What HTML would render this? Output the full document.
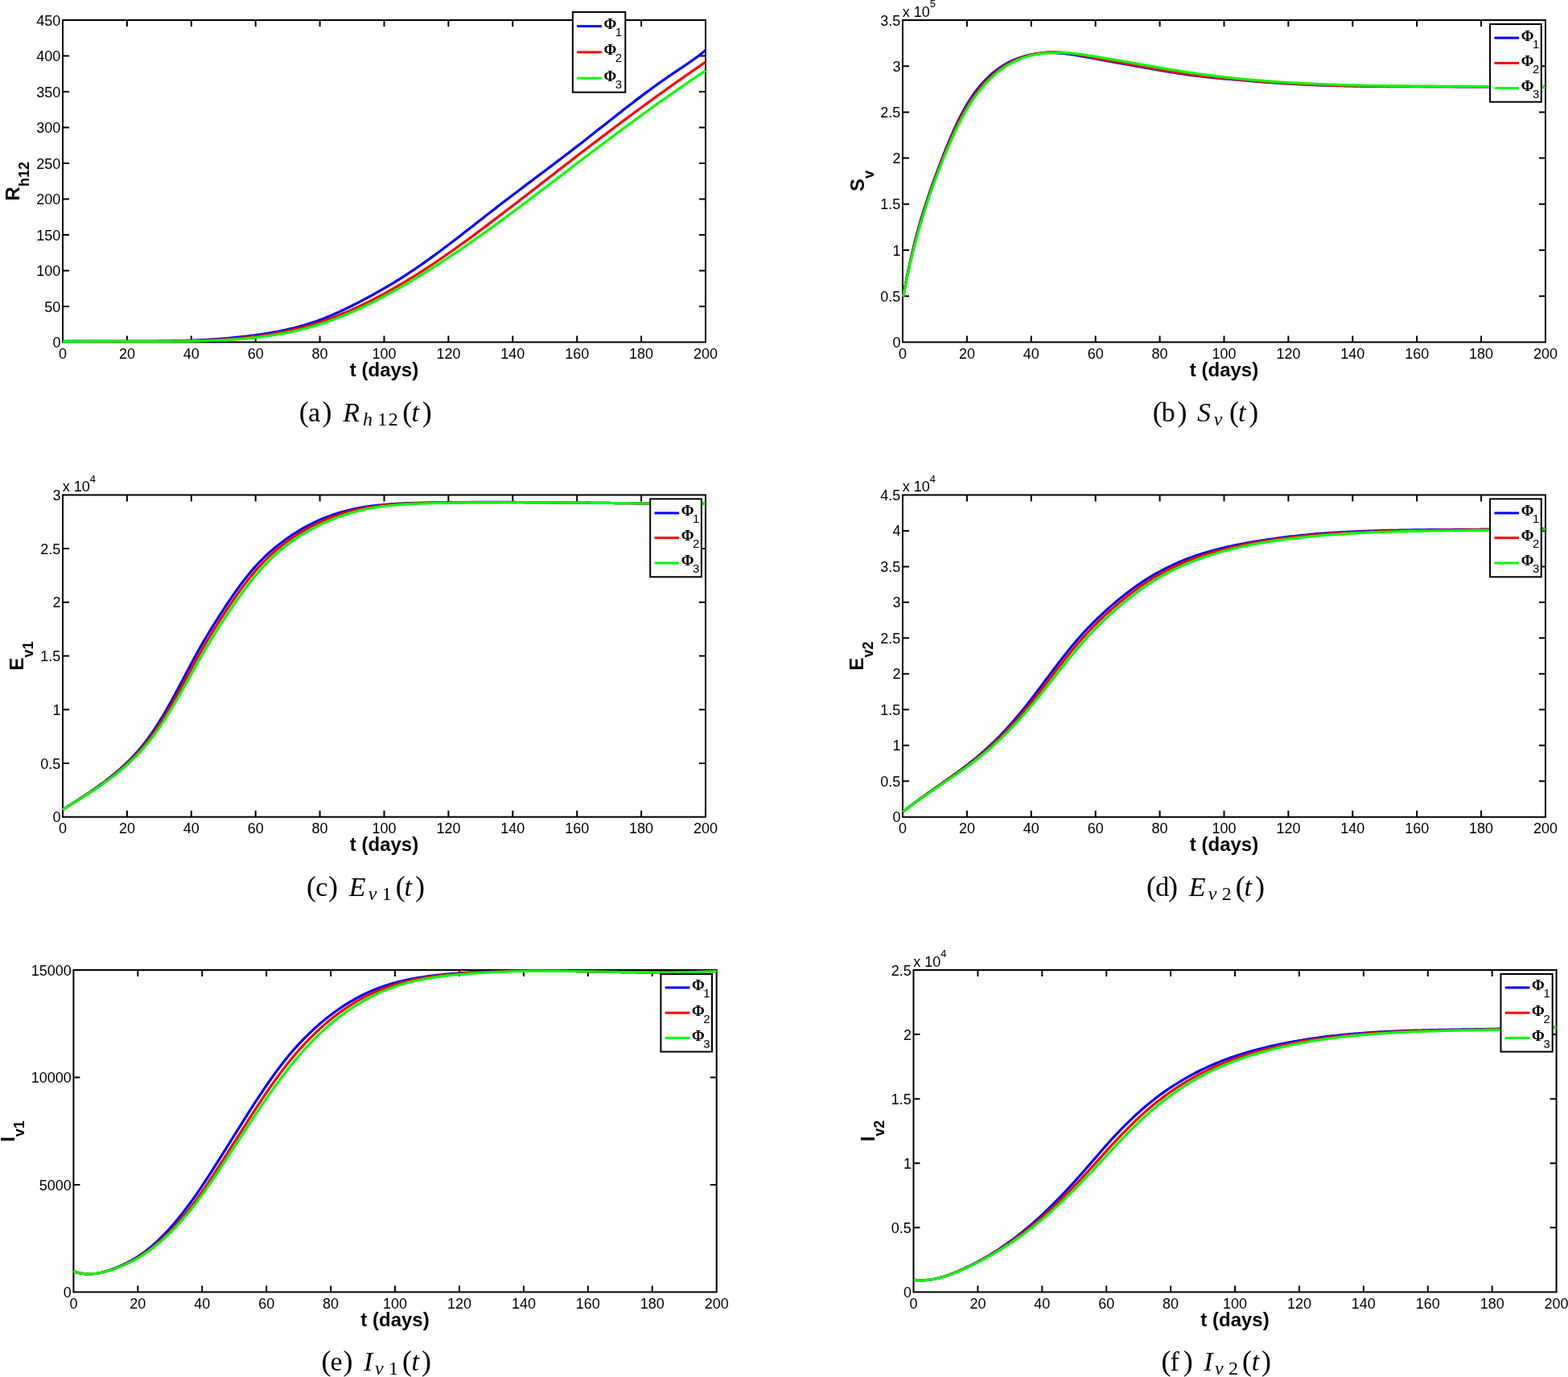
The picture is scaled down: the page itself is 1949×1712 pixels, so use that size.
<!DOCTYPE html>
<html><head><meta charset="utf-8"><title>Figure</title>
<style>
html,body{margin:0;padding:0;background:#fff;}
body{width:1949px;height:1712px;overflow:hidden;}
svg{display:block;}
</style></head><body>
<svg width="1949" height="1712" viewBox="0 0 1949 1712">
<rect width="1949" height="1712" fill="#fff"/>
<g id="panel-a">
<path d="M157.9 425.4V417.4M157.9 25V33M237.8 425.4V417.4M237.8 25V33M317.7 425.4V417.4M317.7 25V33M397.6 425.4V417.4M397.6 25V33M477.5 425.4V417.4M477.5 25V33M557.4 425.4V417.4M557.4 25V33M637.3 425.4V417.4M637.3 25V33M717.2 425.4V417.4M717.2 25V33M797.1 425.4V417.4M797.1 25V33M78 380.91H86M877 380.91H869M78 336.42H86M877 336.42H869M78 291.93H86M877 291.93H869M78 247.44H86M877 247.44H869M78 202.96H86M877 202.96H869M78 158.47H86M877 158.47H869M78 113.98H86M877 113.98H869M78 69.49H86M877 69.49H869" stroke="#000" stroke-width="2.0" fill="none"/>
<rect x="78" y="25" width="799" height="400.4" fill="none" stroke="#000" stroke-width="2.0"/>
<g fill="none" stroke-width="3.2" stroke-linejoin="round" stroke-linecap="butt">
<path d="M78 424.5L80.09 424.45L82.54 424.42L84.99 424.4L87.44 424.38L89.9 424.36L92.36 424.34L94.82 424.33L97.29 424.31L99.75 424.3L102.22 424.3L104.7 424.29L107.17 424.29L109.65 424.29L112.13 424.29L114.61 424.29L117.09 424.29L119.58 424.29L122.06 424.3L124.55 424.3L127.04 424.31L129.54 424.31L132.03 424.32L134.53 424.33L137.03 424.34L139.53 424.34L141.53 424.35L143.53 424.36L145.53 424.36L147.54 424.37L149.54 424.37L151.55 424.38L153.55 424.38L155.56 424.39L157.57 424.39L159.58 424.39L161.58 424.39L163.59 424.39L165.6 424.39L167.62 424.39L169.63 424.39L171.64 424.39L173.65 424.39L175.66 424.38L177.68 424.37L179.69 424.37L181.71 424.36L183.72 424.35L185.73 424.33L187.75 424.32L189.76 424.3L191.78 424.29L193.8 424.27L195.81 424.25L197.83 424.22L199.84 424.2L201.86 424.17L203.88 424.14L205.89 424.11L207.91 424.08L209.92 424.04L211.94 424L213.96 423.96L215.97 423.92L217.99 423.87L220 423.82L222.02 423.77L224.03 423.71L226.05 423.66L228.06 423.6L230.07 423.53L232.09 423.47L234.1 423.4L236.11 423.32L238.12 423.24L240.14 423.16L242.15 423.08L244.16 422.99L246.17 422.9L248.18 422.81L250.18 422.71L252.19 422.61L254.2 422.5L256.2 422.39L258.21 422.28L260.21 422.16L262.22 422.04L264.22 421.91L266.22 421.78L268.22 421.65L270.22 421.51L272.22 421.36L274.22 421.21L276.22 421.06L278.21 420.9L280.21 420.74L282.2 420.57L284.69 420.35L287.18 420.13L289.66 419.9L292.15 419.66L294.63 419.41L297.11 419.15L299.59 418.89L302.06 418.61L304.53 418.33L307 418.04L309.47 417.74L311.94 417.43L314.4 417.11L316.86 416.78L319.32 416.44L321.77 416.09L324.22 415.73L326.67 415.37L329.12 414.99L331.56 414.59L334 414.19L336.44 413.78L338.87 413.35L341.3 412.91L343.73 412.45L346.16 411.99L348.58 411.5L351 411.01L353.41 410.5L355.82 409.97L358.23 409.43L360.63 408.87L363.04 408.29L365.43 407.7L367.83 407.09L370.22 406.47L372.6 405.82L374.99 405.16L377.37 404.48L379.74 403.78L382.11 403.06L384.48 402.32L386.84 401.55L389.2 400.77L391.56 399.97L393.91 399.14L396.26 398.3L398.6 397.43L400.47 396.72L402.34 395.99L404.21 395.26L406.07 394.51L407.93 393.74L409.79 392.97L411.64 392.18L413.5 391.38L415.35 390.58L417.19 389.76L419.04 388.93L420.88 388.09L422.71 387.25L424.55 386.39L426.38 385.53L428.21 384.66L430.03 383.78L431.86 382.9L433.68 382.01L435.49 381.11L437.31 380.21L439.12 379.3L440.92 378.39L442.73 377.47L444.53 376.55L446.32 375.63L448.12 374.7L449.91 373.77L451.7 372.83L453.48 371.88L455.26 370.94L457.04 369.99L458.81 369.03L460.58 368.07L462.35 367.1L464.11 366.13L465.87 365.16L467.63 364.18L469.38 363.2L471.13 362.21L472.88 361.21L474.62 360.21L476.36 359.21L478.09 358.2L479.82 357.19L481.55 356.17L483.28 355.15L485 354.12L486.71 353.09L488.43 352.05L490.14 351.01L491.84 349.96L493.54 348.91L495.24 347.85L497.36 346.52L499.47 345.18L501.57 343.84L503.67 342.48L505.76 341.12L507.85 339.75L509.93 338.38L512 336.99L514.07 335.6L516.13 334.2L518.19 332.8L520.25 331.39L522.3 329.97L524.34 328.55L526.38 327.12L528.42 325.68L530.45 324.24L532.47 322.79L534.5 321.34L536.51 319.88L538.53 318.41L540.54 316.95L542.55 315.47L544.55 313.99L546.55 312.51L548.55 311.02L550.55 309.53L552.54 308.04L554.53 306.54L556.51 305.04L558.5 303.53L560.48 302.02L562.46 300.51L564.44 299L566.41 297.48L568.39 295.96L570.36 294.44L572.33 292.91L574.3 291.39L576.27 289.86L578.23 288.33L580.2 286.8L582.16 285.26L584.13 283.73L586.09 282.19L588.06 280.66L590.02 279.12L591.98 277.58L593.94 276.05L595.91 274.51L597.87 272.97L599.83 271.43L601.8 269.9L603.76 268.36L605.73 266.82L607.69 265.29L609.66 263.75L611.63 262.22L613.6 260.69L615.57 259.16L617.54 257.63L619.52 256.1L621.49 254.58L623.47 253.05L625.45 251.53L627.43 250.01L629.42 248.5L631.4 246.98L633.39 245.47L635.37 243.95L637.36 242.44L639.35 240.93L641.34 239.42L643.33 237.92L645.33 236.41L647.32 234.9L649.32 233.4L651.31 231.89L653.31 230.39L655.3 228.89L657.3 227.38L659.3 225.88L660.9 224.68L662.5 223.48L664.1 222.28L665.7 221.07L667.29 219.87L668.89 218.67L670.49 217.47L672.09 216.27L673.69 215.07L675.29 213.86L676.89 212.66L678.49 211.46L680.09 210.25L681.69 209.05L683.29 207.85L684.89 206.64L686.48 205.44L688.08 204.23L689.68 203.02L691.27 201.82L692.87 200.61L694.47 199.4L696.06 198.19L697.66 196.98L699.25 195.77L700.84 194.56L702.44 193.34L704.03 192.13L705.62 190.91L707.21 189.69L708.8 188.48L710.39 187.26L711.97 186.04L713.56 184.81L715.15 183.59L716.73 182.37L718.32 181.14L719.9 179.91L721.48 178.68L723.06 177.45L724.64 176.22L726.22 174.99L727.79 173.75L729.37 172.51L730.95 171.28L732.52 170.04L734.1 168.8L735.67 167.56L737.24 166.32L738.82 165.08L740.39 163.84L741.96 162.6L743.53 161.36L745.1 160.11L746.67 158.87L748.24 157.63L749.81 156.39L751.38 155.14L752.95 153.9L754.52 152.66L756.09 151.42L757.67 150.18L759.24 148.94L760.81 147.7L762.38 146.46L763.95 145.22L765.52 143.98L767.09 142.74L769.06 141.2L771.03 139.66L772.99 138.12L774.96 136.58L776.93 135.05L778.91 133.51L780.88 131.98L782.85 130.46L784.83 128.93L786.81 127.41L788.79 125.89L790.77 124.38L792.75 122.87L794.74 121.36L796.73 119.86L798.72 118.36L800.71 116.87L802.71 115.38L804.71 113.9L806.71 112.42L808.71 110.94L810.72 109.48L812.73 108.01L814.74 106.56L816.76 105.1L818.78 103.66L820.81 102.22L822.83 100.79L824.86 99.36L826.9 97.94L828.94 96.53L830.98 95.12L833.03 93.73L835.08 92.33L837.14 90.95L839.2 89.57L841.26 88.19L843.32 86.82L845.39 85.44L847.45 84.06L849.52 82.68L851.58 81.29L853.64 79.89L855.7 78.48L857.76 77.05L859.4 75.9L861.03 74.74L862.67 73.57L864.3 72.38L865.92 71.18L867.54 69.96L869.16 68.73L870.77 67.49L872.37 66.22L873.97 64.94L875.56 63.63L877 62.2" stroke="#0000ff"/>
<path d="M78 424.5L80.1 424.49L82.54 424.46L84.98 424.44L87.43 424.42L89.88 424.4L92.33 424.39L94.79 424.37L97.25 424.36L99.71 424.35L102.17 424.34L104.64 424.33L107.11 424.32L109.58 424.32L112.06 424.32L114.54 424.31L117.02 424.31L119.5 424.31L121.99 424.32L124.47 424.32L126.96 424.32L129.46 424.32L131.95 424.33L134.45 424.33L136.94 424.33L139.44 424.34L141.44 424.34L143.45 424.35L145.45 424.35L147.45 424.36L149.46 424.36L151.47 424.36L153.47 424.37L155.48 424.37L157.49 424.37L159.5 424.37L161.51 424.38L163.52 424.38L165.53 424.38L167.55 424.38L169.56 424.38L171.58 424.38L173.59 424.38L175.61 424.37L177.62 424.37L179.64 424.37L181.66 424.36L183.67 424.35L185.69 424.35L187.71 424.34L189.73 424.33L191.75 424.32L193.77 424.31L195.79 424.29L197.81 424.28L199.83 424.26L201.85 424.25L203.87 424.23L205.89 424.21L207.91 424.19L209.93 424.16L211.95 424.14L213.97 424.11L215.99 424.08L218.01 424.05L220.03 424.02L222.05 423.99L224.07 423.95L226.09 423.91L228.1 423.87L230.12 423.83L232.14 423.78L234.16 423.74L236.18 423.69L238.19 423.64L240.21 423.58L242.23 423.52L244.24 423.46L246.26 423.4L248.27 423.33L250.28 423.26L252.3 423.19L254.31 423.11L256.32 423.03L258.33 422.95L260.34 422.86L262.35 422.77L264.36 422.68L266.37 422.58L268.37 422.47L270.38 422.36L272.38 422.25L274.38 422.13L276.39 422.01L278.39 421.88L280.39 421.75L282.39 421.61L284.38 421.47L286.38 421.32L288.37 421.17L290.87 420.97L293.35 420.76L295.84 420.55L298.33 420.32L300.81 420.08L303.29 419.84L305.77 419.58L308.24 419.31L310.72 419.04L313.19 418.75L315.65 418.45L318.12 418.14L320.58 417.82L323.04 417.48L325.5 417.14L327.95 416.78L330.4 416.41L332.85 416.03L335.29 415.64L337.73 415.23L340.17 414.82L342.6 414.38L345.04 413.94L347.46 413.48L349.89 413.01L352.31 412.53L354.73 412.03L357.15 411.52L359.56 410.99L361.97 410.45L364.38 409.9L366.78 409.33L369.18 408.75L371.57 408.15L373.97 407.53L376.36 406.91L378.74 406.26L381.12 405.6L383.5 404.93L385.88 404.24L388.25 403.53L390.62 402.81L392.98 402.07L395.34 401.32L397.7 400.55L400.05 399.76L402.4 398.96L404.75 398.14L407.09 397.3L409.43 396.45L411.77 395.59L414.1 394.7L416.43 393.81L418.75 392.9L421.07 391.98L423.38 391.04L425.7 390.09L427.54 389.32L429.39 388.54L431.23 387.75L433.07 386.96L434.9 386.16L436.74 385.34L438.57 384.53L440.4 383.7L442.22 382.87L444.04 382.03L445.87 381.18L447.68 380.33L449.5 379.47L451.31 378.6L453.12 377.73L454.93 376.85L456.73 375.96L458.53 375.07L460.33 374.17L462.13 373.26L463.92 372.35L465.71 371.43L467.5 370.5L469.28 369.57L471.06 368.63L472.84 367.69L474.62 366.74L476.39 365.79L478.16 364.83L479.93 363.86L481.7 362.89L483.46 361.91L485.22 360.93L486.97 359.94L488.72 358.95L490.47 357.95L492.22 356.95L493.96 355.94L495.7 354.93L497.44 353.91L499.18 352.89L500.91 351.86L502.64 350.83L504.36 349.79L506.09 348.75L507.81 347.71L509.52 346.66L511.24 345.6L512.95 344.55L514.65 343.48L516.36 342.42L518.06 341.35L519.76 340.27L521.46 339.2L523.15 338.11L524.85 337.03L526.53 335.94L528.22 334.84L529.9 333.75L531.59 332.65L533.26 331.54L534.94 330.43L536.61 329.32L538.29 328.21L539.96 327.09L541.62 325.97L543.29 324.85L544.95 323.72L546.61 322.59L548.26 321.45L549.92 320.32L551.57 319.18L553.22 318.04L554.87 316.89L556.52 315.74L558.16 314.59L559.81 313.44L561.45 312.29L563.08 311.13L564.72 309.97L566.36 308.8L567.99 307.64L569.62 306.47L571.25 305.3L572.87 304.13L574.5 302.96L576.12 301.78L577.74 300.6L579.36 299.42L580.98 298.24L582.6 297.06L584.21 295.87L585.83 294.68L587.44 293.5L589.05 292.31L590.66 291.11L592.26 289.92L593.87 288.73L595.47 287.53L597.08 286.33L598.68 285.13L600.68 283.63L602.68 282.13L604.67 280.63L606.67 279.13L608.66 277.62L610.65 276.11L612.64 274.6L614.63 273.1L616.61 271.59L618.6 270.07L620.58 268.56L622.56 267.05L624.54 265.54L626.52 264.02L628.49 262.51L630.47 261L632.44 259.48L634.42 257.97L636.39 256.45L638.36 254.93L640.33 253.42L642.3 251.9L644.27 250.38L646.23 248.86L648.2 247.34L650.17 245.83L652.13 244.31L654.1 242.79L656.06 241.27L658.02 239.75L659.99 238.23L661.95 236.71L663.91 235.19L665.88 233.66L667.84 232.14L669.8 230.62L671.76 229.1L673.73 227.58L675.69 226.06L677.65 224.53L679.61 223.01L681.58 221.49L683.54 219.97L685.5 218.44L687.47 216.92L689.43 215.4L691.39 213.88L693.36 212.35L695.32 210.83L697.29 209.31L699.26 207.79L701.23 206.26L703.2 204.74L705.16 203.22L707.14 201.7L709.11 200.18L711.08 198.65L713.05 197.13L715.03 195.61L717 194.09L718.98 192.57L720.96 191.05L722.94 189.53L724.92 188.01L726.91 186.49L728.89 184.97L730.88 183.45L732.46 182.23L734.05 181.02L735.65 179.81L737.24 178.59L738.83 177.38L740.42 176.16L742.02 174.95L743.61 173.74L745.21 172.53L746.8 171.32L748.4 170.1L750 168.89L751.6 167.68L753.2 166.47L754.8 165.26L756.4 164.06L758 162.85L759.61 161.64L761.21 160.43L762.81 159.23L764.42 158.02L766.02 156.82L767.63 155.61L769.24 154.41L770.84 153.21L772.45 152L774.06 150.8L775.67 149.6L777.28 148.4L778.89 147.2L780.5 146.01L782.12 144.81L783.73 143.61L785.34 142.42L786.96 141.22L788.57 140.03L790.19 138.83L791.81 137.64L793.42 136.45L795.04 135.26L796.66 134.07L798.28 132.88L799.9 131.7L801.52 130.51L803.14 129.33L804.76 128.14L806.38 126.96L808 125.78L809.63 124.6L811.25 123.42L812.88 122.24L814.5 121.06L816.13 119.89L817.75 118.71L819.38 117.54L821.01 116.37L822.63 115.2L824.26 114.03L825.89 112.86L827.52 111.7L829.15 110.53L830.78 109.37L832.41 108.2L834.04 107.04L835.67 105.88L837.31 104.72L838.94 103.57L840.57 102.41L842.21 101.26L844.25 99.82L846.29 98.38L848.34 96.95L850.38 95.51L852.43 94.08L854.47 92.66L856.52 91.23L858.57 89.81L860.62 88.39L862.67 86.97L864.72 85.56L866.77 84.15L868.82 82.74L870.87 81.33L872.92 79.93L874.97 78.53L877 77.1" stroke="#ff0000"/>
<path d="M78 424.6L80.11 424.63L82.55 424.59L84.99 424.55L87.44 424.51L89.89 424.48L92.34 424.45L94.79 424.42L97.25 424.39L99.71 424.37L102.18 424.35L104.64 424.33L107.11 424.31L109.59 424.3L112.06 424.28L114.54 424.27L117.02 424.26L119.5 424.26L121.98 424.25L124.47 424.25L126.96 424.24L129.45 424.24L131.95 424.24L134.44 424.24L136.94 424.24L139.44 424.24L141.44 424.25L143.44 424.25L145.44 424.25L147.45 424.26L149.45 424.26L151.46 424.27L153.47 424.27L155.48 424.28L157.49 424.28L159.5 424.29L161.51 424.29L163.52 424.3L165.53 424.3L167.54 424.31L169.56 424.31L171.57 424.32L173.59 424.32L175.6 424.32L177.62 424.33L179.64 424.33L181.66 424.33L183.67 424.34L185.69 424.34L187.71 424.34L189.73 424.34L191.75 424.34L193.77 424.34L195.79 424.33L197.81 424.33L199.83 424.33L201.85 424.32L203.87 424.32L205.9 424.31L207.92 424.3L209.94 424.29L211.96 424.28L213.98 424.27L216 424.26L218.02 424.24L220.04 424.23L222.07 424.21L224.09 424.19L226.11 424.17L228.13 424.15L230.15 424.12L232.17 424.1L234.19 424.07L236.21 424.04L238.23 424.01L240.24 423.97L242.26 423.94L244.28 423.9L246.3 423.86L248.31 423.81L250.33 423.77L252.34 423.72L254.36 423.66L256.37 423.61L258.38 423.55L260.39 423.48L262.41 423.42L264.42 423.35L266.43 423.27L268.43 423.19L270.44 423.11L272.45 423.02L274.45 422.93L276.46 422.84L278.46 422.74L280.46 422.63L282.47 422.52L284.47 422.41L286.47 422.28L288.46 422.16L290.46 422.03L292.95 421.86L295.44 421.68L297.93 421.49L300.42 421.29L302.91 421.08L305.39 420.86L307.87 420.63L310.35 420.39L312.82 420.14L315.29 419.88L317.76 419.61L320.23 419.33L322.69 419.03L325.16 418.72L327.61 418.41L330.07 418.07L332.52 417.73L334.97 417.38L337.42 417.01L339.86 416.63L342.31 416.23L344.74 415.83L347.18 415.4L349.61 414.97L352.04 414.52L354.47 414.06L356.89 413.58L359.31 413.09L361.73 412.59L364.14 412.07L366.55 411.53L368.96 410.98L371.36 410.42L373.76 409.84L376.16 409.24L378.55 408.63L380.94 408L383.33 407.36L385.71 406.7L388.09 406.02L390.47 405.33L392.84 404.62L395.21 403.89L397.58 403.15L399.94 402.38L402.3 401.61L404.66 400.81L407.01 400L409.36 399.17L411.7 398.32L414.05 397.46L416.38 396.59L418.72 395.7L420.58 394.97L422.44 394.24L424.3 393.5L426.16 392.74L428.02 391.98L429.87 391.22L431.72 390.44L433.57 389.65L435.41 388.86L437.26 388.05L439.1 387.24L440.93 386.42L442.77 385.59L444.6 384.76L446.43 383.92L448.26 383.07L450.08 382.21L451.91 381.34L453.72 380.47L455.54 379.59L457.36 378.71L459.17 377.82L460.98 376.92L462.78 376.01L464.59 375.1L466.39 374.19L468.19 373.26L469.98 372.34L471.78 371.4L473.57 370.46L475.36 369.52L477.14 368.57L478.92 367.61L480.7 366.65L482.48 365.69L484.25 364.72L486.02 363.74L487.79 362.77L489.56 361.78L491.32 360.8L493.08 359.81L494.84 358.81L496.59 357.82L498.34 356.81L500.09 355.81L501.84 354.8L503.58 353.79L505.32 352.78L507.05 351.76L508.79 350.74L510.52 349.71L512.25 348.69L513.97 347.66L515.7 346.62L517.42 345.59L519.14 344.55L520.85 343.51L522.56 342.46L524.27 341.41L525.98 340.36L527.69 339.31L529.39 338.25L531.09 337.19L532.79 336.13L534.48 335.07L536.17 334L537.86 332.93L539.55 331.86L541.66 330.51L543.76 329.16L545.86 327.81L547.96 326.45L550.05 325.09L552.14 323.73L554.23 322.36L556.31 320.99L558.39 319.61L560.47 318.23L562.54 316.85L564.62 315.46L566.68 314.07L568.75 312.67L570.81 311.27L572.87 309.87L574.93 308.47L576.98 307.06L579.03 305.65L581.08 304.23L583.13 302.82L585.17 301.4L587.21 299.97L589.25 298.54L591.29 297.11L593.32 295.68L595.35 294.25L597.38 292.81L599.41 291.37L601.44 289.92L603.46 288.47L605.48 287.02L607.5 285.57L609.52 284.12L611.54 282.66L613.55 281.2L615.56 279.74L617.57 278.28L619.58 276.81L621.59 275.34L623.6 273.87L625.6 272.4L627.6 270.92L629.61 269.44L631.61 267.96L633.61 266.48L635.6 265L637.6 263.51L639.6 262.03L641.59 260.54L643.59 259.05L645.58 257.56L647.57 256.06L649.56 254.57L651.55 253.07L653.54 251.57L655.53 250.07L657.52 248.57L659.51 247.07L661.5 245.57L663.48 244.06L665.47 242.56L667.45 241.05L669.44 239.54L671.43 238.03L673.41 236.52L675.4 235.01L677.38 233.5L679.36 231.99L681.35 230.47L683.33 228.96L685.32 227.44L687.3 225.93L689.29 224.41L691.28 222.89L693.26 221.38L695.25 219.86L696.84 218.65L698.43 217.43L700.02 216.22L701.61 215L703.2 213.79L704.79 212.57L706.38 211.36L707.97 210.14L709.56 208.92L711.16 207.71L712.75 206.49L714.34 205.28L715.94 204.06L717.53 202.85L719.13 201.63L720.72 200.42L722.32 199.2L723.92 197.99L725.52 196.77L727.11 195.56L728.71 194.35L730.31 193.13L731.92 191.92L733.52 190.71L735.12 189.49L736.72 188.28L738.32 187.07L739.93 185.86L741.53 184.65L743.14 183.44L744.74 182.23L746.35 181.02L747.96 179.81L749.57 178.6L751.17 177.39L752.78 176.18L754.39 174.98L756 173.77L757.61 172.57L759.22 171.36L760.84 170.16L762.45 168.96L764.06 167.76L765.67 166.55L767.29 165.35L768.9 164.15L770.52 162.96L772.13 161.76L773.75 160.56L775.37 159.37L776.98 158.17L778.6 156.98L780.22 155.79L781.84 154.59L783.46 153.4L785.08 152.22L786.7 151.03L788.32 149.84L789.94 148.65L791.56 147.47L793.19 146.29L794.81 145.11L796.43 143.93L798.06 142.75L799.68 141.57L801.31 140.39L802.93 139.22L804.56 138.04L806.18 136.87L807.81 135.7L809.44 134.53L811.07 133.36L812.7 132.2L814.32 131.03L815.95 129.87L817.58 128.71L819.21 127.55L821.25 126.1L823.29 124.66L825.33 123.22L827.37 121.78L829.41 120.34L831.46 118.91L833.5 117.48L835.54 116.05L837.59 114.63L839.63 113.21L841.68 111.79L843.72 110.38L845.77 108.96L847.81 107.56L849.86 106.15L851.91 104.75L853.96 103.35L856.01 101.96L858.06 100.57L860.11 99.18L862.16 97.79L864.21 96.41L866.27 95.04L868.32 93.67L870.37 92.3L872.43 90.93L874.48 89.57L876.54 88.21L877 87.7" stroke="#00ff00"/>
</g>
<g font-family="'Liberation Sans', Arial, Helvetica, sans-serif" font-size="18" text-anchor="middle"><text x="78" y="445.6">0</text><text x="157.9" y="445.6">20</text><text x="237.8" y="445.6">40</text><text x="317.7" y="445.6">60</text><text x="397.6" y="445.6">80</text><text x="477.5" y="445.6">100</text><text x="557.4" y="445.6">120</text><text x="637.3" y="445.6">140</text><text x="717.2" y="445.6">160</text><text x="797.1" y="445.6">180</text><text x="877" y="445.6">200</text></g>
<g font-family="'Liberation Sans', Arial, Helvetica, sans-serif" font-size="18" text-anchor="end"><text x="75.4" y="432">0</text><text x="75.4" y="387.51">50</text><text x="75.4" y="343.02">100</text><text x="75.4" y="298.53">150</text><text x="75.4" y="254.04">200</text><text x="75.4" y="209.56">250</text><text x="75.4" y="165.07">300</text><text x="75.4" y="120.58">350</text><text x="75.4" y="76.09">400</text><text x="75.4" y="31.6">450</text></g>
<text x="477.5" y="467.5" font-family="'Liberation Sans', Arial, Helvetica, sans-serif" font-size="24" font-weight="bold" text-anchor="middle">t (days)</text>
<text transform="translate(24.2 225.2) rotate(-90)" font-family="'Liberation Sans', Arial, Helvetica, sans-serif" font-size="24" font-weight="bold" text-anchor="middle">R<tspan font-size="18" dy="12">h12</tspan></text>
<rect x="711.9" y="15.05" width="65.4" height="99.65" fill="#fff" stroke="#000" stroke-width="2"/>
<path d="M717.2 32.6H747.9" stroke="#0000ff" stroke-width="3"/><text x="750.5" y="36" font-family="'Liberation Serif', 'Times New Roman', serif" font-size="19" font-weight="bold">&#934;</text><text x="764.8" y="45" font-family="'Liberation Sans', Arial, Helvetica, sans-serif" font-size="15">1</text><path d="M717.2 64.9H747.9" stroke="#ff0000" stroke-width="3"/><text x="750.5" y="68.3" font-family="'Liberation Serif', 'Times New Roman', serif" font-size="19" font-weight="bold">&#934;</text><text x="764.8" y="77.3" font-family="'Liberation Sans', Arial, Helvetica, sans-serif" font-size="15">2</text><path d="M717.2 97.2H747.9" stroke="#00ff00" stroke-width="3"/><text x="750.5" y="100.6" font-family="'Liberation Serif', 'Times New Roman', serif" font-size="19" font-weight="bold">&#934;</text><text x="764.8" y="109.6" font-family="'Liberation Sans', Arial, Helvetica, sans-serif" font-size="15">3</text>
<text font-family="'Liberation Serif', 'Times New Roman', serif"><tspan x="371.7" y="523.6" font-size="36">(</tspan><tspan x="382.9" y="523.6" font-size="34">a</tspan><tspan x="400.4" y="523.6" font-size="36">)</tspan><tspan x="426.3" y="523.6" font-size="34" font-style="italic">R</tspan><tspan x="451.1" y="529" font-size="24" font-style="italic">h</tspan><tspan x="469.2" y="529" font-size="24">1</tspan><tspan x="482.8" y="529" font-size="24">2</tspan><tspan x="500.3" y="523.6" font-size="36">(</tspan><tspan x="511.6" y="523.6" font-size="34" font-style="italic">t</tspan><tspan x="524.7" y="523.6" font-size="36">)</tspan></text>
</g>
<g id="panel-b">
<path d="M1201.9 425.4V417.4M1201.9 25V33M1281.8 425.4V417.4M1281.8 25V33M1361.7 425.4V417.4M1361.7 25V33M1441.6 425.4V417.4M1441.6 25V33M1521.5 425.4V417.4M1521.5 25V33M1601.4 425.4V417.4M1601.4 25V33M1681.3 425.4V417.4M1681.3 25V33M1761.2 425.4V417.4M1761.2 25V33M1841.1 425.4V417.4M1841.1 25V33M1122 368.2H1130M1921 368.2H1913M1122 311H1130M1921 311H1913M1122 253.8H1130M1921 253.8H1913M1122 196.6H1130M1921 196.6H1913M1122 139.4H1130M1921 139.4H1913M1122 82.2H1130M1921 82.2H1913" stroke="#000" stroke-width="2.0" fill="none"/>
<rect x="1122" y="25" width="799" height="400.4" fill="none" stroke="#000" stroke-width="2.0"/>
<g fill="none" stroke-width="3.2" stroke-linejoin="round" stroke-linecap="butt">
<path d="M1122.5 368.77L1123.5 364.26L1124 361.51L1124.5 358.8L1125 356.14L1125.5 353.51L1126 350.91L1126.5 348.36L1127 345.83L1127.5 343.34L1128 340.88L1128.5 338.45L1129 336.06L1129.5 333.69L1130 331.35L1130.5 329.03L1131 326.75L1131.5 324.48L1132 322.25L1132.5 320.04L1133 317.85L1133.5 315.68L1134 313.54L1134.5 311.42L1135 309.32L1135.5 307.24L1136 305.19L1136.5 303.15L1137 301.13L1137.5 299.13L1138 297.15L1138.5 295.18L1139 293.24L1140 289.4L1141 285.82L1142 282.29L1143 278.82L1144 275.4L1145 272.04L1146 268.72L1147 265.45L1148 262.22L1149 259.04L1150 255.9L1151 252.8L1152 249.74L1153 246.71L1154 243.73L1155 240.78L1156 237.86L1157 234.98L1158 232.13L1159 229.31L1160 226.52L1161 223.77L1162 221.04L1163 218.34L1164 215.67L1165 213.02L1166 210.29L1167 207.6L1168 204.93L1169 202.28L1170 199.66L1171 197.07L1172 194.5L1173 191.95L1174 189.43L1175 186.92L1176 184.44L1177 181.98L1178 179.54L1179 177.13L1180 174.73L1181 172.37L1182 170.02L1183 167.71L1184 165.43L1185 163.17L1186 160.95L1187 158.76L1188 156.61L1189 154.47L1190 152.37L1191 150.3L1192 148.27L1193 146.27L1194 144.31L1195 142.38L1196 140.48L1197 138.62L1198 136.8L1199 135.01L1200 133.25L1201.5 130.68L1203 128.18L1204.5 125.75L1206 123.4L1207.5 121.11L1209 118.89L1210.5 116.75L1212 114.7L1213.5 112.71L1215 110.78L1216.5 108.91L1218 107.09L1219.5 105.33L1221 103.62L1222.5 101.96L1224 100.35L1225.5 98.79L1227 97.28L1228.5 95.81L1230 94.39L1231.5 93.02L1233 91.68L1235 89.97L1237 88.39L1239 86.88L1241 85.43L1243 84.04L1245 82.72L1247 81.46L1249 80.25L1251 79.11L1253 78.02L1255 76.99L1257 76.01L1259 75.09L1261 74.24L1263 73.44L1265 72.69L1267 71.99L1269 71.32L1271 70.7L1273 70.11L1275 69.56L1277 69.05L1279 68.58L1281 68.14L1283 67.73L1285 67.37L1287 67.03L1289 66.73L1291 66.48L1293 66.28L1295 66.1L1297 65.95L1299 65.83L1301 65.74L1303 65.68L1305 65.63L1307 65.62L1309 65.62L1311 65.68L1313 65.78L1315 65.91L1317 66.06L1319 66.23L1321 66.42L1323 66.63L1325 66.86L1327 67.1L1329 67.37L1331 67.64L1333 67.94L1335 68.24L1337 68.56L1339 68.9L1341 69.23L1343 69.55L1345 69.89L1347 70.23L1349 70.59L1351 70.95L1353 71.31L1355 71.68L1357 72.05L1359 72.42L1361 72.8L1363 73.18L1365 73.57L1367 73.95L1369 74.34L1371 74.73L1373 75.12L1375 75.51L1377 75.91L1379 76.3L1381 76.68L1383 77.02L1385 77.37L1387 77.72L1389 78.06L1391 78.41L1393 78.77L1395 79.12L1397 79.47L1399 79.82L1401 80.18L1403 80.53L1405 80.89L1407 81.24L1409 81.6L1411 81.95L1413 82.31L1415 82.66L1417 83.02L1419 83.37L1421 83.73L1423 84.08L1425 84.43L1427 84.78L1429 85.13L1431 85.48L1433 85.83L1435 86.18L1437 86.53L1439 86.87L1441 87.21L1443 87.55L1445 87.89L1447 88.23L1449 88.57L1451 88.9L1453 89.23L1455 89.56L1457 89.89L1459 90.21L1461 90.53L1463 90.85L1465 91.17L1467 91.48L1469 91.79L1471 92.1L1473 92.4L1475 92.7L1477 93L1479 93.3L1481 93.56L1483 93.81L1485 94.05L1487 94.28L1489 94.52L1491 94.75L1493 94.97L1495 95.19L1497 95.41L1499 95.63L1501 95.84L1503 96.05L1505 96.26L1507 96.46L1509 96.66L1511 96.86L1513 97.05L1515 97.24L1517 97.43L1519 97.61L1521 97.79L1523 97.97L1525 98.15L1527 98.32L1529 98.49L1531 98.65L1533 98.82L1535 98.98L1537 99.13L1539 99.29L1541 99.46L1543 99.65L1545 99.84L1547 100.02L1549 100.2L1551 100.38L1553 100.56L1555 100.73L1557 100.9L1559 101.07L1561 101.23L1563 101.4L1565 101.56L1567 101.71L1569 101.87L1571 102.02L1573 102.17L1575 102.32L1577 102.46L1579 102.61L1581 102.75L1583 102.88L1585 103.02L1587 103.15L1589 103.28L1591 103.41L1593 103.54L1595 103.66L1597 103.78L1599 103.9L1601 104.02L1603 104.13L1605 104.25L1607 104.36L1609 104.47L1611 104.57L1613 104.68L1615 104.78L1617 104.88L1619 104.98L1621 105.07L1623 105.17L1625 105.26L1627 105.35L1629 105.44L1631 105.53L1633 105.61L1635 105.69L1637 105.78L1639 105.86L1641 105.93L1643 106L1645 106.06L1647 106.13L1649 106.19L1651 106.25L1653 106.31L1655 106.37L1657 106.43L1659 106.48L1661 106.53L1663 106.59L1665 106.64L1667 106.69L1669 106.73L1671 106.78L1673 106.82L1675 106.87L1677 106.91L1679 106.95L1681 106.99L1683 107.03L1685 107.06L1687 107.1L1689 107.13L1691 107.16L1693 107.2L1695 107.23L1697 107.25L1699 107.28L1701 107.31L1703 107.34L1705 107.36L1707 107.38L1709 107.41L1711 107.43L1713 107.45L1715 107.47L1717 107.49L1719 107.51L1721 107.52L1723 107.54L1725 107.55L1727 107.57L1729 107.58L1731 107.6L1733 107.61L1735 107.62L1737 107.63L1739 107.64L1741 107.65L1743 107.66L1745 107.67L1747 107.67L1749 107.68L1751 107.69L1753 107.69L1755 107.7L1757 107.7L1759 107.71L1761 107.71L1763 107.72L1765 107.72L1767 107.73L1769 107.73L1771 107.74L1773 107.74L1775 107.74L1777 107.75L1779 107.75L1781 107.75L1783 107.75L1785 107.76L1787 107.76L1789 107.76L1791 107.76L1793 107.76L1795 107.77L1797 107.77L1799 107.77L1801 107.77L1803 107.77L1805 107.77L1807 107.77L1809 107.78L1811 107.78L1813 107.78L1815 107.78L1817 107.78L1819 107.79L1821 107.79L1823 107.79L1825 107.79L1827 107.8L1829 107.8L1831 107.8L1833 107.81L1835 107.81L1837 107.81L1839 107.82L1841 107.82L1843 107.83L1845 107.84L1847 107.84L1849 107.85L1851 107.86L1853 107.86L1855 107.87L1857 107.88L1859 107.89L1861 107.9L1863 107.91L1865 107.92L1867 107.94L1869 107.95L1871 107.96L1873 107.98L1875 107.99L1877 108.01L1879 108.02L1881 108.04L1883 108.06L1885 108.08L1887 108.1L1889 108.12L1891 108.14L1893 108.16L1895 108.19L1897 108.21L1899 108.24L1901 108.26L1903 108.29L1905 108.32L1907 108.35L1909 108.38L1911 108.41L1913 108.45L1915 108.48L1917 108.52L1919 108.21L1921 108.2" stroke="#0000ff"/>
<path d="M1122.5 368.79L1123.5 364.52L1124 361.85L1124.5 359.22L1125 356.63L1125.5 354.08L1126 351.56L1126.5 349.07L1127 346.62L1127.5 344.19L1128 341.8L1128.5 339.44L1129 337.1L1129.5 334.79L1130 332.51L1130.5 330.26L1131 328.03L1131.5 325.82L1132 323.64L1132.5 321.48L1133 319.35L1133.5 317.24L1134 315.15L1134.5 313.08L1135 311.03L1135.5 309L1136 306.99L1136.5 304.99L1137 303.02L1137.5 301.07L1138 299.13L1139 295.31L1140 291.55L1141 287.95L1142 284.4L1143 280.91L1144 277.48L1145 274.09L1146 270.76L1147 267.47L1148 264.23L1149 261.03L1150 257.88L1151 254.76L1152 251.69L1153 248.66L1154 245.66L1155 242.7L1156 239.77L1157 236.88L1158 234.02L1159 231.19L1160 228.39L1161 225.63L1162 222.89L1163 220.18L1164 217.5L1165 214.85L1166 212.16L1167 209.5L1168 206.87L1169 204.26L1170 201.68L1171 199.12L1172 196.58L1173 194.07L1174 191.57L1175 189.11L1176 186.66L1177 184.23L1178 181.82L1179 179.43L1180 177.07L1181 174.72L1182 172.4L1183 170.11L1184 167.84L1185 165.61L1186 163.4L1187 161.22L1188 159.07L1189 156.97L1190 154.9L1191 152.86L1192 150.86L1193 148.88L1194 146.94L1195 145.04L1196 143.16L1197 141.32L1198 139.51L1199 137.73L1200 135.98L1201.5 133.42L1203 130.93L1204.5 128.51L1206 126.15L1207.5 123.87L1209 121.65L1210.5 119.49L1212 117.4L1213.5 115.37L1215 113.4L1216.5 111.48L1218 109.62L1219.5 107.82L1221 106.07L1222.5 104.37L1224 102.72L1225.5 101.12L1227 99.57L1228.5 98.06L1230 96.6L1231.5 95.18L1233 93.8L1234.5 92.47L1236.5 90.78L1238.5 89.17L1240.5 87.62L1242.5 86.14L1244.5 84.73L1246.5 83.37L1248.5 82.08L1250.5 80.85L1252.5 79.67L1254.5 78.56L1256.5 77.5L1258.5 76.5L1260.5 75.54L1262.5 74.63L1264.5 73.76L1266.5 72.94L1268.5 72.17L1270.5 71.44L1272.5 70.75L1274.5 70.11L1276.5 69.5L1278.5 68.93L1280.5 68.4L1282.5 67.91L1284.5 67.46L1286.5 67.04L1288.5 66.65L1290.5 66.31L1292.5 66L1294.5 65.72L1296.5 65.47L1298.5 65.25L1300.5 65.06L1302.5 64.9L1304.5 64.77L1306.5 64.67L1308.5 64.59L1310.5 64.56L1312.5 64.65L1314.5 64.76L1316.5 64.89L1318.5 65.05L1320.5 65.22L1322.5 65.42L1324.5 65.64L1326.5 65.87L1328.5 66.13L1330.5 66.39L1332.5 66.68L1334.5 66.98L1336.5 67.29L1338.5 67.62L1340.5 67.95L1342.5 68.29L1344.5 68.63L1346.5 68.98L1348.5 69.34L1350.5 69.71L1352.5 70.08L1354.5 70.46L1356.5 70.84L1358.5 71.23L1360.5 71.62L1362.5 72.01L1364.5 72.41L1366.5 72.81L1368.5 73.21L1370.5 73.61L1372.5 74.01L1374.5 74.42L1376.5 74.83L1378.5 75.24L1380.5 75.63L1382.5 75.98L1384.5 76.32L1386.5 76.67L1388.5 77.02L1390.5 77.36L1392.5 77.71L1394.5 78.07L1396.5 78.42L1398.5 78.77L1400.5 79.12L1402.5 79.48L1404.5 79.83L1406.5 80.19L1408.5 80.54L1410.5 80.9L1412.5 81.25L1414.5 81.61L1416.5 81.96L1418.5 82.32L1420.5 82.67L1422.5 83.03L1424.5 83.38L1426.5 83.73L1428.5 84.08L1430.5 84.43L1432.5 84.78L1434.5 85.13L1436.5 85.48L1438.5 85.83L1440.5 86.17L1442.5 86.51L1444.5 86.85L1446.5 87.19L1448.5 87.53L1450.5 87.87L1452.5 88.2L1454.5 88.53L1456.5 88.86L1458.5 89.19L1460.5 89.51L1462.5 89.83L1464.5 90.15L1466.5 90.47L1468.5 90.78L1470.5 91.09L1472.5 91.4L1474.5 91.7L1476.5 92L1478.5 92.3L1480.5 92.59L1482.5 92.85L1484.5 93.1L1486.5 93.36L1488.5 93.61L1490.5 93.85L1492.5 94.1L1494.5 94.34L1496.5 94.57L1498.5 94.8L1500.5 95.03L1502.5 95.26L1504.5 95.48L1506.5 95.7L1508.5 95.92L1510.5 96.13L1512.5 96.34L1514.5 96.55L1516.5 96.75L1518.5 96.95L1520.5 97.15L1522.5 97.34L1524.5 97.54L1526.5 97.72L1528.5 97.91L1530.5 98.09L1532.5 98.27L1534.5 98.45L1536.5 98.62L1538.5 98.79L1540.5 98.96L1542.5 99.16L1544.5 99.35L1546.5 99.53L1548.5 99.72L1550.5 99.9L1552.5 100.08L1554.5 100.25L1556.5 100.43L1558.5 100.6L1560.5 100.77L1562.5 100.93L1564.5 101.09L1566.5 101.25L1568.5 101.41L1570.5 101.57L1572.5 101.72L1574.5 101.87L1576.5 102.02L1578.5 102.16L1580.5 102.3L1582.5 102.44L1584.5 102.58L1586.5 102.72L1588.5 102.85L1590.5 102.98L1592.5 103.11L1594.5 103.24L1596.5 103.36L1598.5 103.48L1600.5 103.6L1602.5 103.72L1604.5 103.83L1606.5 103.95L1608.5 104.06L1610.5 104.16L1612.5 104.27L1614.5 104.38L1616.5 104.48L1618.5 104.58L1620.5 104.68L1622.5 104.77L1624.5 104.87L1626.5 104.96L1628.5 105.05L1630.5 105.14L1632.5 105.23L1634.5 105.31L1636.5 105.39L1638.5 105.47L1640.5 105.55L1642.5 105.62L1644.5 105.69L1646.5 105.76L1648.5 105.83L1650.5 105.89L1652.5 105.96L1654.5 106.02L1656.5 106.08L1658.5 106.13L1660.5 106.19L1662.5 106.25L1664.5 106.3L1666.5 106.35L1668.5 106.4L1670.5 106.45L1672.5 106.5L1674.5 106.54L1676.5 106.59L1678.5 106.63L1680.5 106.67L1682.5 106.72L1684.5 106.76L1686.5 106.79L1688.5 106.83L1690.5 106.87L1692.5 106.9L1694.5 106.93L1696.5 106.97L1698.5 107L1700.5 107.03L1702.5 107.05L1704.5 107.08L1706.5 107.11L1708.5 107.13L1710.5 107.16L1712.5 107.18L1714.5 107.2L1716.5 107.23L1718.5 107.25L1720.5 107.27L1722.5 107.28L1724.5 107.3L1726.5 107.32L1728.5 107.34L1730.5 107.35L1732.5 107.37L1734.5 107.38L1736.5 107.39L1738.5 107.4L1740.5 107.42L1742.5 107.43L1744.5 107.44L1746.5 107.45L1748.5 107.46L1750.5 107.46L1752.5 107.47L1754.5 107.48L1756.5 107.49L1758.5 107.49L1760.5 107.5L1762.5 107.51L1764.5 107.52L1766.5 107.52L1768.5 107.53L1770.5 107.54L1772.5 107.55L1774.5 107.55L1776.5 107.56L1778.5 107.56L1780.5 107.57L1782.5 107.57L1784.5 107.58L1786.5 107.58L1788.5 107.59L1790.5 107.59L1792.5 107.6L1794.5 107.6L1796.5 107.61L1798.5 107.61L1800.5 107.61L1802.5 107.62L1804.5 107.62L1806.5 107.63L1808.5 107.63L1810.5 107.63L1812.5 107.64L1814.5 107.64L1816.5 107.65L1818.5 107.65L1820.5 107.65L1822.5 107.66L1824.5 107.66L1826.5 107.67L1828.5 107.67L1830.5 107.68L1832.5 107.69L1834.5 107.69L1836.5 107.7L1838.5 107.71L1840.5 107.71L1842.5 107.72L1844.5 107.73L1846.5 107.74L1848.5 107.75L1850.5 107.76L1852.5 107.77L1854.5 107.78L1856.5 107.79L1858.5 107.8L1860.5 107.81L1862.5 107.82L1864.5 107.84L1866.5 107.85L1868.5 107.87L1870.5 107.88L1872.5 107.9L1874.5 107.91L1876.5 107.93L1878.5 107.95L1880.5 107.97L1882.5 107.99L1884.5 108.01L1886.5 108.03L1888.5 108.05L1890.5 108.08L1892.5 108.1L1894.5 108.13L1896.5 108.15L1898.5 108.18L1900.5 108.21L1902.5 108.24L1904.5 108.27L1906.5 108.3L1908.5 108.33L1910.5 108.36L1912.5 108.4L1914.5 108.43L1916.5 108.47L1918.5 108.51L1920.5 108.2L1921 108.2" stroke="#ff0000"/>
<path d="M1122.5 368.8L1123.16 366.56L1123.54 364.56L1123.93 362.57L1124.32 360.58L1124.71 358.59L1125.11 356.61L1125.51 354.63L1125.91 352.64L1126.32 350.67L1126.73 348.69L1127.15 346.72L1127.56 344.75L1127.99 342.78L1128.42 340.81L1128.85 338.85L1129.28 336.89L1129.72 334.93L1130.16 332.97L1130.61 331.01L1131.06 329.06L1131.51 327.11L1131.97 325.16L1132.44 323.21L1132.9 321.27L1133.49 318.84L1134.09 316.42L1134.69 313.99L1135.29 311.57L1135.91 309.16L1136.53 306.75L1137.16 304.34L1137.79 301.93L1138.43 299.52L1139.07 297.12L1139.73 294.72L1140.39 292.33L1141.05 289.93L1141.72 287.54L1142.4 285.15L1143.09 282.77L1143.78 280.38L1144.48 278L1145.18 275.62L1145.9 273.24L1146.61 270.87L1147.34 268.5L1148.07 266.13L1148.81 263.76L1149.56 261.39L1150.31 259.03L1151.07 256.67L1151.84 254.31L1152.61 251.95L1153.39 249.59L1154.18 247.24L1154.97 244.89L1155.77 242.54L1156.58 240.19L1157.4 237.84L1158.22 235.5L1159.05 233.15L1159.89 230.81L1160.73 228.47L1161.58 226.13L1162.44 223.79L1163.31 221.45L1164.18 219.12L1165.06 216.78L1165.95 214.45L1166.85 212.12L1167.75 209.79L1168.48 207.92L1169.21 206.06L1169.95 204.2L1170.69 202.34L1171.43 200.48L1172.19 198.61L1172.94 196.75L1173.7 194.9L1174.47 193.04L1175.24 191.18L1176.01 189.32L1176.8 187.46L1177.58 185.6L1178.37 183.75L1179.17 181.89L1179.97 180.03L1180.77 178.18L1181.58 176.32L1182.4 174.47L1183.22 172.62L1184.05 170.77L1184.89 168.92L1185.73 167.08L1186.58 165.24L1187.44 163.4L1188.3 161.57L1189.18 159.74L1190.06 157.92L1190.95 156.1L1191.85 154.29L1192.76 152.48L1193.68 150.68L1194.61 148.89L1195.55 147.1L1196.51 145.32L1197.47 143.55L1198.44 141.78L1199.43 140.03L1200.43 138.28L1201.44 136.55L1202.46 134.82L1203.5 133.1L1204.55 131.4L1205.61 129.7L1206.96 127.6L1208.33 125.52L1209.73 123.45L1211.15 121.4L1212.59 119.38L1214.06 117.38L1215.55 115.39L1217.07 113.43L1218.62 111.5L1220.19 109.59L1221.79 107.7L1223.42 105.84L1225.08 104.01L1226.77 102.2L1228.49 100.42L1230.24 98.67L1232.02 96.95L1233.84 95.26L1235.69 93.6L1237.57 91.98L1239.48 90.39L1241.42 88.84L1243.4 87.32L1245.41 85.85L1247.46 84.41L1249.53 83.02L1251.64 81.68L1253.35 80.64L1255.08 79.63L1256.83 78.65L1258.6 77.7L1260.4 76.79L1262.21 75.91L1264.05 75.07L1265.9 74.26L1267.77 73.49L1269.66 72.76L1271.56 72.06L1273.48 71.39L1275.4 70.77L1277.34 70.18L1279.28 69.62L1281.23 69.1L1283.18 68.62L1285.13 68.17L1287.57 67.67L1290.01 67.22L1292.45 66.82L1294.9 66.47L1297.34 66.17L1299.78 65.93L1302.23 65.72L1304.68 65.56L1307.13 65.45L1309.57 65.37L1312.02 65.34L1314.47 65.34L1316.92 65.38L1319.38 65.45L1321.83 65.56L1324.28 65.7L1326.74 65.86L1329.19 66.05L1331.65 66.27L1334.11 66.52L1336.56 66.78L1339.02 67.06L1341.48 67.37L1343.94 67.69L1346.4 68.03L1348.86 68.38L1351.32 68.74L1353.79 69.11L1356.25 69.49L1358.71 69.88L1361.18 70.27L1363.64 70.67L1366.11 71.07L1368.57 71.47L1370.55 71.8L1372.52 72.13L1374.49 72.46L1376.47 72.79L1378.44 73.12L1380.42 73.46L1382.4 73.8L1384.37 74.14L1386.35 74.48L1388.32 74.82L1390.3 75.17L1392.28 75.51L1394.26 75.86L1396.23 76.21L1398.21 76.56L1400.19 76.9L1402.17 77.25L1404.15 77.6L1406.13 77.96L1408.11 78.31L1410.09 78.66L1412.07 79.01L1414.05 79.36L1416.03 79.71L1418.01 80.06L1419.99 80.42L1421.97 80.77L1423.95 81.12L1425.94 81.47L1427.92 81.82L1429.9 82.17L1431.88 82.51L1433.87 82.86L1435.85 83.21L1437.83 83.55L1439.82 83.89L1441.8 84.24L1443.78 84.58L1445.77 84.91L1447.75 85.25L1449.74 85.59L1451.72 85.92L1453.71 86.25L1455.69 86.58L1457.68 86.91L1459.66 87.23L1461.65 87.56L1463.63 87.88L1465.62 88.19L1467.6 88.51L1469.59 88.82L1471.57 89.13L1473.56 89.43L1475.55 89.74L1477.53 90.03L1479.52 90.33L1481.51 90.62L1483.49 90.91L1485.48 91.2L1487.47 91.48L1489.45 91.76L1491.44 92.03L1493.43 92.31L1495.41 92.57L1497.4 92.84L1499.39 93.1L1501.37 93.36L1503.36 93.62L1505.35 93.87L1507.34 94.12L1509.32 94.36L1511.31 94.61L1513.3 94.85L1515.29 95.08L1517.27 95.31L1519.26 95.54L1521.25 95.77L1523.24 96L1525.23 96.22L1527.21 96.44L1529.7 96.7L1532.18 96.97L1534.67 97.23L1537.16 97.48L1539.64 97.73L1542.13 97.98L1544.61 98.22L1547.1 98.46L1549.59 98.69L1552.07 98.92L1554.56 99.14L1557.05 99.36L1559.53 99.58L1562.02 99.79L1564.51 100L1567 100.2L1569.48 100.4L1571.97 100.6L1574.46 100.79L1576.95 100.97L1579.43 101.16L1581.92 101.34L1584.41 101.52L1586.9 101.69L1589.39 101.86L1591.88 102.02L1594.36 102.19L1596.85 102.34L1599.34 102.5L1601.83 102.65L1604.32 102.8L1606.81 102.94L1609.3 103.09L1611.79 103.22L1614.28 103.36L1616.77 103.49L1619.26 103.62L1621.75 103.74L1624.24 103.87L1626.73 103.99L1629.22 104.1L1631.71 104.22L1634.2 104.33L1636.7 104.43L1639.19 104.54L1641.68 104.64L1644.17 104.74L1646.66 104.84L1649.15 104.93L1651.64 105.02L1654.14 105.11L1656.63 105.2L1659.12 105.28L1661.61 105.36L1664.11 105.44L1666.6 105.52L1669.09 105.59L1671.58 105.67L1674.08 105.74L1676.57 105.8L1679.06 105.87L1681.56 105.93L1684.05 105.99L1686.55 106.05L1689.04 106.11L1691.53 106.17L1694.03 106.22L1696.52 106.27L1699.02 106.32L1701.51 106.37L1704.01 106.42L1706.5 106.46L1709 106.5L1711.49 106.54L1713.99 106.58L1716.48 106.62L1718.98 106.66L1721.48 106.69L1723.97 106.73L1726.47 106.76L1728.96 106.79L1731.46 106.82L1733.96 106.85L1736.45 106.88L1738.95 106.9L1741.45 106.93L1743.94 106.95L1746.44 106.98L1748.94 107L1751.44 107.02L1753.93 107.04L1756.43 107.06L1758.93 107.08L1761.43 107.1L1763.93 107.11L1766.43 107.13L1768.92 107.15L1771.42 107.16L1773.92 107.18L1776.42 107.19L1778.92 107.2L1781.42 107.22L1783.92 107.23L1786.42 107.24L1788.92 107.25L1791.42 107.27L1793.42 107.28L1795.42 107.28L1797.42 107.29L1799.42 107.3L1801.42 107.31L1803.42 107.32L1805.42 107.33L1807.42 107.34L1809.42 107.35L1811.42 107.36L1813.42 107.37L1815.42 107.37L1817.43 107.38L1819.43 107.39L1821.43 107.4L1823.43 107.41L1825.43 107.42L1827.43 107.43L1829.43 107.44L1831.44 107.45L1833.44 107.46L1835.44 107.47L1837.44 107.49L1839.45 107.5L1841.45 107.51L1843.45 107.52L1845.45 107.54L1847.46 107.55L1849.46 107.56L1851.46 107.58L1853.46 107.59L1855.47 107.61L1857.47 107.62L1859.47 107.64L1861.48 107.66L1863.48 107.67L1865.48 107.69L1867.49 107.71L1869.49 107.73L1871.49 107.75L1873.5 107.77L1875.5 107.79L1877.51 107.81L1879.51 107.84L1881.51 107.86L1883.52 107.89L1885.52 107.91L1887.53 107.94L1889.53 107.97L1891.54 107.99L1893.54 108.02L1895.55 108.05L1897.55 108.08L1899.56 108.12L1901.56 108.15L1903.57 108.18L1905.57 108.22L1907.58 108.25L1909.59 108.29L1911.59 108.33L1913.6 108.37L1915.6 108.41L1917.61 108.45L1919.62 108.49L1921 108.2" stroke="#00ff00"/>
</g>
<g font-family="'Liberation Sans', Arial, Helvetica, sans-serif" font-size="18" text-anchor="middle"><text x="1122" y="445.6">0</text><text x="1201.9" y="445.6">20</text><text x="1281.8" y="445.6">40</text><text x="1361.7" y="445.6">60</text><text x="1441.6" y="445.6">80</text><text x="1521.5" y="445.6">100</text><text x="1601.4" y="445.6">120</text><text x="1681.3" y="445.6">140</text><text x="1761.2" y="445.6">160</text><text x="1841.1" y="445.6">180</text><text x="1921" y="445.6">200</text></g>
<g font-family="'Liberation Sans', Arial, Helvetica, sans-serif" font-size="18" text-anchor="end"><text x="1119.4" y="432">0</text><text x="1119.4" y="374.8">0.5</text><text x="1119.4" y="317.6">1</text><text x="1119.4" y="260.4">1.5</text><text x="1119.4" y="203.2">2</text><text x="1119.4" y="146">2.5</text><text x="1119.4" y="88.8">3</text><text x="1119.4" y="31.6">3.5</text></g>
<text x="1121.8" y="20.7" font-family="'Liberation Sans', Arial, Helvetica, sans-serif" font-size="18">x 10<tspan font-size="13" dy="-11.3">5</tspan></text>
<text x="1521.5" y="467.5" font-family="'Liberation Sans', Arial, Helvetica, sans-serif" font-size="24" font-weight="bold" text-anchor="middle">t (days)</text>
<text transform="translate(1073.7 225.1) rotate(-90)" font-family="'Liberation Sans', Arial, Helvetica, sans-serif" font-size="24" font-weight="bold" text-anchor="middle">S<tspan font-size="18" dy="12">v</tspan></text>
<rect x="1852.1" y="30" width="63.7" height="96.7" fill="#fff" stroke="#000" stroke-width="2"/>
<path d="M1857.4 47.1H1888.1" stroke="#0000ff" stroke-width="3"/><text x="1890.7" y="50.5" font-family="'Liberation Serif', 'Times New Roman', serif" font-size="19" font-weight="bold">&#934;</text><text x="1905" y="59.5" font-family="'Liberation Sans', Arial, Helvetica, sans-serif" font-size="15">1</text><path d="M1857.4 78.4H1888.1" stroke="#ff0000" stroke-width="3"/><text x="1890.7" y="81.8" font-family="'Liberation Serif', 'Times New Roman', serif" font-size="19" font-weight="bold">&#934;</text><text x="1905" y="90.8" font-family="'Liberation Sans', Arial, Helvetica, sans-serif" font-size="15">2</text><path d="M1857.4 109.6H1888.1" stroke="#00ff00" stroke-width="3"/><text x="1890.7" y="113" font-family="'Liberation Serif', 'Times New Roman', serif" font-size="19" font-weight="bold">&#934;</text><text x="1905" y="122" font-family="'Liberation Sans', Arial, Helvetica, sans-serif" font-size="15">3</text>
<text font-family="'Liberation Serif', 'Times New Roman', serif"><tspan x="1432.7" y="523.7" font-size="36">(</tspan><tspan x="1443.8" y="523.7" font-size="34">b</tspan><tspan x="1463.5" y="523.7" font-size="36">)</tspan><tspan x="1488.1" y="523.7" font-size="34" font-style="italic">S</tspan><tspan x="1508.7" y="528.5" font-size="24" font-style="italic">v</tspan><tspan x="1528" y="523.7" font-size="36">(</tspan><tspan x="1539" y="523.7" font-size="34" font-style="italic">t</tspan><tspan x="1552.2" y="523.7" font-size="36">)</tspan></text>
</g>
<g id="panel-c">
<path d="M157.9 1015.7V1007.7M157.9 615.4V623.4M237.8 1015.7V1007.7M237.8 615.4V623.4M317.7 1015.7V1007.7M317.7 615.4V623.4M397.6 1015.7V1007.7M397.6 615.4V623.4M477.5 1015.7V1007.7M477.5 615.4V623.4M557.4 1015.7V1007.7M557.4 615.4V623.4M637.3 1015.7V1007.7M637.3 615.4V623.4M717.2 1015.7V1007.7M717.2 615.4V623.4M797.1 1015.7V1007.7M797.1 615.4V623.4M78 948.98H86M877 948.98H869M78 882.27H86M877 882.27H869M78 815.55H86M877 815.55H869M78 748.83H86M877 748.83H869M78 682.12H86M877 682.12H869" stroke="#000" stroke-width="2.0" fill="none"/>
<rect x="78" y="615.4" width="799" height="400.3" fill="none" stroke="#000" stroke-width="2.0"/>
<g fill="none" stroke-width="3.2" stroke-linejoin="round" stroke-linecap="butt">
<path d="M78 1007L79.5 1005.51L81.5 1004.28L83.5 1003.05L85.5 1001.81L87.5 1000.56L89.5 999.31L91.5 998.05L93.5 996.79L95.5 995.52L97.5 994.24L99.5 992.95L101.5 991.66L103.5 990.35L105.5 989.03L107.5 987.71L109.5 986.37L111.5 985.02L113.5 983.66L115.5 982.28L117.5 980.89L119.5 979.49L121.5 978.06L123.5 976.61L125.5 975.15L127.5 973.67L129.5 972.17L131.5 970.65L133.5 969.1L135.5 967.54L137.5 965.95L139.5 964.34L141.5 962.7L143.5 961.03L145.5 959.34L147.5 957.62L149.5 955.86L151 954.52L152.5 953.16L154 951.78L155.5 950.38L157 948.96L158.5 947.51L160 946.04L161.5 944.55L163 943.02L164.5 941.47L166 939.89L167.5 938.28L169 936.64L170.5 934.96L172 933.25L173.5 931.5L175 929.72L176.5 927.9L178 926.05L179.5 924.15L181 922.2L182.5 920.21L184 918.17L185.5 916.1L187 913.99L188.5 911.84L190 909.65L191.5 907.42L193 905.15L194.5 902.85L196 900.5L197.5 898.12L199 895.71L200.5 893.25L202 890.76L203.5 888.24L205 885.69L206.5 883.1L207.5 881.36L208.5 879.6L209.5 877.83L210.5 876.05L211.5 874.26L212.5 872.46L213.5 870.65L214.5 868.82L215.5 866.99L216.5 865.15L217.5 863.3L218.5 861.45L219.5 859.58L220.5 857.72L221.5 855.84L222.5 853.97L223.5 852.09L224.5 850.2L225.5 848.32L226.5 846.43L227.5 844.54L228.5 842.65L229.5 840.76L230.5 838.87L231.5 836.98L232.5 835.09L233.5 833.21L234.5 831.32L235.5 829.44L236.5 827.57L237.5 825.69L238.5 823.82L239.5 821.96L240.5 820.1L241.5 818.25L242.5 816.4L243.5 814.56L244.5 812.73L245.5 810.9L246.5 809.09L247.5 807.28L248.5 805.48L249.5 803.69L250.5 801.93L252 799.34L253.5 796.77L255 794.23L256.5 791.71L258 789.21L259.5 786.73L261 784.27L262.5 781.83L264 779.41L265.5 777L267 774.61L268.5 772.24L270 769.88L271.5 767.53L273 765.2L274.5 762.88L276 760.58L277.5 758.28L279 756L280.5 753.73L282 751.47L283.5 749.22L285 746.99L286.5 744.78L288 742.58L289.5 740.4L291 738.24L292.5 736.1L294 733.99L295.5 731.9L297 729.83L298.5 727.78L300 725.77L301.5 723.77L303 721.81L304.5 719.87L306 717.96L307.5 716.08L309 714.23L310.5 712.4L312 710.61L313.5 708.84L315 707.11L316.5 705.4L318 703.72L319.5 702.08L321 700.46L322.5 698.87L324 697.31L325.5 695.78L327 694.28L328.5 692.81L330 691.37L331.5 689.95L333 688.56L334.5 687.2L336 685.86L338 684.12L340 682.41L342 680.75L344 679.13L346 677.54L348 675.99L350 674.48L352 672.97L354 671.49L356 670.04L358 668.63L360 667.25L362 665.89L364 664.57L366 663.28L368 662.01L370 660.78L372 659.57L374 658.39L376 657.23L378 656.1L380 654.99L382 653.91L384 652.86L386 651.83L388 650.82L390 649.84L392 648.87L394 647.94L396 647.02L398 646.13L400 645.26L402 644.45L404 643.66L406 642.9L408 642.15L410 641.43L412 640.72L414 640.04L416 639.37L418 638.72L420 638.09L422 637.48L424 636.89L426 636.32L428 635.77L430 635.23L432 634.72L434 634.22L436 633.74L438 633.28L440 632.84L442 632.42L444 632.01L446 631.63L448 631.26L450 630.91L452 630.57L454 630.25L456 629.94L458 629.65L460 629.38L462 629.11L464 628.86L466 628.62L468 628.4L470 628.18L472 627.98L474 627.78L476 627.6L478 627.42L480 627.26L482 627.1L484 626.95L486 626.81L488 626.67L490 626.54L492 626.41L494 626.3L496 626.18L498 626.08L500 625.98L502 625.88L504 625.8L506 625.72L508 625.64L510 625.56L512 625.49L514 625.43L516 625.37L518 625.31L520 625.26L522 625.21L524 625.16L526 625.11L528 625.07L530 625.03L532 624.99L534 624.96L536 624.93L538 624.9L540 624.87L542 624.84L544 624.81L546 624.79L548 624.76L550 624.74L552 624.72L554 624.7L556 624.68L558 624.66L560 624.64L562 624.62L564 624.6L566 624.59L568 624.57L570 624.56L572 624.54L574 624.53L576 624.52L578 624.51L580 624.5L582 624.48L584 624.48L586 624.47L588 624.46L590 624.45L592 624.44L594 624.44L596 624.43L598 624.43L600 624.42L602 624.42L604 624.42L606 624.42L608 624.41L610 624.41L612 624.41L614 624.41L616 624.41L618 624.42L620 624.42L622 624.42L624 624.42L626 624.43L628 624.43L630 624.44L632 624.44L634 624.45L636 624.45L638 624.46L640 624.47L642 624.48L644 624.48L646 624.49L648 624.5L650 624.51L652 624.52L654 624.53L656 624.54L658 624.55L660 624.57L662 624.58L664 624.59L666 624.6L668 624.62L670 624.63L672 624.64L674 624.66L676 624.67L678 624.69L680 624.7L682 624.72L684 624.74L686 624.75L688 624.77L690 624.78L692 624.8L694 624.82L696 624.84L698 624.85L700 624.87L702 624.89L704 624.91L706 624.93L708 624.95L710 624.97L712 624.99L714 625.01L716 625.03L718 625.05L720 625.07L722 625.09L724 625.11L726 625.13L728 625.15L730 625.17L732 625.19L734 625.21L736 625.23L738 625.25L740 625.28L742 625.3L744 625.32L746 625.34L748 625.36L750 625.38L752 625.4L754 625.43L756 625.45L758 625.47L760 625.49L762 625.51L764 625.54L766 625.56L768 625.58L770 625.6L772 625.62L774 625.64L776 625.66L778 625.69L780 625.71L782 625.73L784 625.75L786 625.77L788 625.79L790 625.81L792 625.83L794 625.85L796 625.87L798 625.89L800 625.91L802 625.93L804 625.95L806 625.97L808 625.99L810 626.01L812 626.03L814 626.05L816 626.07L818 626.09L820 626.11L822 626.12L824 626.14L826 626.16L828 626.17L830 626.19L832 626.21L834 626.22L836 626.24L838 626.25L840 626.27L842 626.28L844 626.3L846 626.31L848 626.33L850 626.34L852 626.35L854 626.36L856 626.38L858 626.39L860 626.4L862 626.41L864 626.38L866 626.39L868 626.39L870 626.39L872 626.39L874 626.4L876 626.4L877 626.4" stroke="#0000ff"/>
<path d="M78 1007L79.5 1005.53L81.5 1004.32L83.5 1003.11L85.5 1001.89L87.5 1000.67L89.5 999.44L91.5 998.21L93.5 996.97L95.5 995.72L97.5 994.47L99.5 993.21L101.5 991.94L103.5 990.66L105.5 989.37L107.5 988.07L109.5 986.76L111.5 985.44L113.5 984.1L115.5 982.76L117.5 981.4L119.5 980.02L121.5 978.63L123.5 977.22L125.5 975.79L127.5 974.35L129.5 972.88L131.5 971.4L133.5 969.9L135.5 968.38L137.5 966.83L139.5 965.26L141.5 963.67L143.5 962.05L145.5 960.41L147.5 958.74L149.5 957.03L151.5 955.3L153.5 953.54L155 952.19L156.5 950.82L158 949.43L159.5 948.02L161 946.59L162.5 945.13L164 943.65L165.5 942.14L167 940.6L168.5 939.04L170 937.44L171.5 935.81L173 934.15L174.5 932.46L176 930.73L177.5 928.96L179 927.16L180.5 925.33L182 923.44L183.5 921.53L185 919.57L186.5 917.58L188 915.55L189.5 913.49L191 911.39L192.5 909.25L194 907.07L195.5 904.86L197 902.62L198.5 900.33L200 898.01L201.5 895.66L203 893.27L204.5 890.85L206 888.4L207.5 885.92L209 883.4L210.5 880.86L212 878.29L213.5 875.69L214.5 873.95L215.5 872.19L216.5 870.43L217.5 868.65L218.5 866.87L219.5 865.08L220.5 863.28L221.5 861.47L222.5 859.66L223.5 857.84L224.5 856.02L225.5 854.19L226.5 852.37L227.5 850.53L228.5 848.7L229.5 846.86L230.5 845.02L231.5 843.19L232.5 841.35L233.5 839.51L234.5 837.67L235.5 835.83L236.5 834L237.5 832.16L238.5 830.33L239.5 828.5L240.5 826.68L241.5 824.86L242.5 823.04L243.5 821.23L244.5 819.42L245.5 817.62L246.5 815.83L247.5 814.04L248.5 812.26L249.5 810.48L250.5 808.73L251.5 806.99L253 804.4L254.5 801.83L256 799.28L257.5 796.75L259 794.24L260.5 791.75L262 789.29L263.5 786.84L265 784.41L266.5 782.01L268 779.61L269.5 777.24L271 774.88L272.5 772.54L274 770.21L275.5 767.89L277 765.59L278.5 763.3L280 761.02L281.5 758.76L283 756.5L284.5 754.26L286 752.03L287.5 749.81L289 747.61L290.5 745.42L292 743.24L293.5 741.09L295 738.95L296.5 736.84L298 734.74L299.5 732.67L301 730.62L302.5 728.6L304 726.6L305.5 724.63L307 722.69L308.5 720.77L310 718.87L311.5 717.01L313 715.17L314.5 713.36L316 711.58L317.5 709.82L319 708.1L320.5 706.4L322 704.73L323.5 703.09L325 701.48L326.5 699.9L328 698.35L329.5 696.82L331 695.32L332.5 693.85L334 692.41L335.5 691L337 689.61L338.5 688.25L340 686.92L342 685.17L344 683.47L346 681.81L348 680.19L350 678.6L352 677.03L354 675.5L356 674L358 672.53L360 671.1L362 669.69L364 668.32L366 666.98L368 665.67L370 664.38L372 663.13L374 661.9L376 660.69L378 659.52L380 658.37L382 657.24L384 656.14L386 655.07L388 654.02L390 652.99L392 651.98L394 651L396 650.04L398 649.1L400 648.19L402 647.32L404 646.47L406 645.65L408 644.84L410 644.05L412 643.29L414 642.54L416 641.81L418 641.11L420 640.42L422 639.75L424 639.1L426 638.47L428 637.86L430 637.26L432 636.69L434 636.13L436 635.6L438 635.08L440 634.58L442 634.1L444 633.63L446 633.19L448 632.76L450 632.35L452 631.96L454 631.59L456 631.23L458 630.89L460 630.56L462 630.26L464 629.96L466 629.68L468 629.41L470 629.16L472 628.92L474 628.69L476 628.47L478 628.26L480 628.06L482 627.88L484 627.7L486 627.53L488 627.37L490 627.21L492 627.07L494 626.93L496 626.8L498 626.67L500 626.55L502 626.44L504 626.33L506 626.23L508 626.14L510 626.04L512 625.96L514 625.88L516 625.8L518 625.73L520 625.66L522 625.6L524 625.54L526 625.48L528 625.42L530 625.37L532 625.33L534 625.28L536 625.24L538 625.2L540 625.17L542 625.13L544 625.1L546 625.07L548 625.04L550 625.01L552 624.98L554 624.96L556 624.93L558 624.91L560 624.89L562 624.86L564 624.84L566 624.82L568 624.8L570 624.78L572 624.77L574 624.75L576 624.73L578 624.72L580 624.7L582 624.69L584 624.68L586 624.66L588 624.65L590 624.64L592 624.63L594 624.62L596 624.61L598 624.6L600 624.6L602 624.59L604 624.58L606 624.58L608 624.57L610 624.57L612 624.57L614 624.56L616 624.56L618 624.56L620 624.56L622 624.56L624 624.56L626 624.56L628 624.56L630 624.56L632 624.56L634 624.57L636 624.57L638 624.58L640 624.58L642 624.58L644 624.59L646 624.6L648 624.6L650 624.61L652 624.62L654 624.62L656 624.63L658 624.64L660 624.65L662 624.66L664 624.67L666 624.68L668 624.69L670 624.7L672 624.72L674 624.73L676 624.74L678 624.75L680 624.77L682 624.78L684 624.79L686 624.81L688 624.82L690 624.84L692 624.85L694 624.87L696 624.88L698 624.9L700 624.91L702 624.93L704 624.95L706 624.96L708 624.98L710 625L712 625.02L714 625.03L716 625.05L718 625.07L720 625.09L722 625.11L724 625.13L726 625.15L728 625.16L730 625.18L732 625.2L734 625.22L736 625.24L738 625.26L740 625.28L742 625.3L744 625.32L746 625.34L748 625.36L750 625.38L752 625.4L754 625.42L756 625.45L758 625.47L760 625.49L762 625.51L764 625.53L766 625.55L768 625.57L770 625.59L772 625.61L774 625.63L776 625.65L778 625.67L780 625.69L782 625.71L784 625.73L786 625.75L788 625.77L790 625.79L792 625.82L794 625.83L796 625.85L798 625.87L800 625.89L802 625.91L804 625.93L806 625.95L808 625.97L810 625.99L812 626.01L814 626.03L816 626.04L818 626.06L820 626.08L822 626.1L824 626.12L826 626.13L828 626.15L830 626.17L832 626.18L834 626.2L836 626.21L838 626.23L840 626.24L842 626.26L844 626.27L846 626.29L848 626.3L850 626.31L852 626.33L854 626.34L856 626.35L858 626.36L860 626.38L862 626.39L864 626.4L866 626.41L868 626.42L870 626.39L872 626.4L874 626.4L876 626.4L877 626.4" stroke="#ff0000"/>
<path d="M78 1007L79.49 1005.55L81.61 1004.29L83.72 1003.03L85.84 1001.76L87.96 1000.49L90.08 999.21L92.2 997.92L94.32 996.63L96.44 995.32L98.56 994.01L100.68 992.69L102.8 991.37L104.49 990.3L106.18 989.22L107.87 988.15L109.56 987.06L111.24 985.97L112.92 984.87L114.6 983.77L116.28 982.66L117.95 981.54L119.62 980.41L121.28 979.28L122.94 978.14L124.59 977L126.24 975.85L127.88 974.69L129.52 973.52L131.15 972.34L132.78 971.16L134.4 969.97L136.01 968.77L137.62 967.56L139.22 966.34L140.81 965.12L142.4 963.88L143.97 962.64L145.54 961.39L147.1 960.13L148.65 958.85L150.2 957.57L151.73 956.28L153.25 954.98L154.77 953.68L156.27 952.36L158.13 950.69L159.98 949.01L161.81 947.31L163.63 945.6L165.42 943.87L167.2 942.12L168.96 940.36L170.7 938.58L172.41 936.77L174.11 934.95L175.79 933.12L177.44 931.26L179.08 929.39L180.69 927.5L182.29 925.59L183.87 923.67L185.43 921.74L186.98 919.78L188.5 917.82L190.01 915.84L191.51 913.84L192.98 911.84L194.45 909.82L195.9 907.79L197.33 905.75L198.75 903.69L200.16 901.63L201.55 899.55L202.93 897.47L204.03 895.8L205.11 894.12L206.2 892.43L207.27 890.74L208.34 889.05L209.4 887.35L210.45 885.65L211.5 883.94L212.54 882.23L213.58 880.51L214.61 878.79L215.64 877.07L216.66 875.34L217.68 873.62L218.69 871.89L219.7 870.16L220.7 868.42L221.71 866.68L222.7 864.95L223.7 863.21L224.69 861.47L225.68 859.73L226.66 857.99L227.89 855.81L229.11 853.64L230.34 851.46L231.56 849.28L232.78 847.11L233.99 844.94L235.21 842.76L236.42 840.59L237.64 838.42L238.85 836.25L240.07 834.08L241.28 831.91L242.5 829.74L243.72 827.58L244.94 825.41L246.17 823.25L247.39 821.09L248.62 818.93L249.86 816.77L251.1 814.61L252.34 812.46L253.59 810.31L254.84 808.15L256.1 806L257.37 803.86L258.64 801.71L259.92 799.57L261.21 797.43L262.5 795.29L263.55 793.58L264.59 791.87L265.65 790.17L266.7 788.46L267.77 786.76L268.83 785.06L269.9 783.36L270.98 781.66L272.06 779.97L273.15 778.28L274.23 776.58L275.33 774.89L276.42 773.21L277.52 771.52L278.63 769.84L279.73 768.16L280.84 766.48L281.96 764.8L283.07 763.12L284.19 761.45L285.32 759.78L286.44 758.11L287.57 756.44L288.7 754.78L289.83 753.12L290.97 751.46L292.1 749.81L293.25 748.15L294.39 746.5L295.54 744.86L296.69 743.22L297.85 741.58L299.01 739.95L300.18 738.32L301.35 736.7L302.52 735.08L304 733.06L305.49 731.06L306.99 729.06L308.5 727.07L310.02 725.1L311.55 723.13L313.09 721.18L314.65 719.23L316.22 717.31L317.8 715.39L319.4 713.48L321.01 711.6L322.63 709.72L324.28 707.86L325.94 706.01L327.61 704.18L329.31 702.37L331.02 700.58L332.75 698.8L334.5 697.03L336.27 695.29L338.06 693.57L339.87 691.86L341.7 690.18L343.55 688.51L345.42 686.86L347.31 685.24L349.22 683.63L351.15 682.05L353.1 680.48L354.67 679.24L356.26 678.02L357.85 676.81L359.46 675.61L361.08 674.42L362.71 673.25L364.35 672.1L366 670.95L367.66 669.82L369.33 668.7L371.01 667.6L372.7 666.51L374.4 665.44L376.11 664.37L377.82 663.33L379.55 662.29L381.29 661.27L383.03 660.27L384.79 659.28L386.55 658.3L388.32 657.34L390.1 656.39L391.88 655.46L393.68 654.54L395.48 653.64L397.29 652.75L399.1 651.87L400.92 651.01L402.75 650.17L404.59 649.34L406.43 648.52L408.27 647.72L410.13 646.94L411.99 646.17L413.85 645.41L415.72 644.67L417.6 643.95L419.48 643.24L421.36 642.55L423.25 641.87L425.15 641.21L427.05 640.57L428.95 639.94L430.86 639.32L432.77 638.73L434.68 638.14L437.08 637.44L439.48 636.76L441.89 636.11L444.3 635.48L446.71 634.87L449.13 634.3L451.55 633.75L453.97 633.22L456.4 632.72L458.83 632.25L461.26 631.8L463.69 631.37L466.13 630.97L468.56 630.59L471 630.23L473.44 629.9L475.89 629.58L478.33 629.28L480.78 629L483.23 628.73L485.68 628.48L488.13 628.25L490.58 628.03L493.04 627.82L495.5 627.62L497.96 627.44L500.42 627.27L502.88 627.1L505.35 626.95L507.81 626.8L510.28 626.67L512.75 626.54L515.22 626.42L517.7 626.31L520.17 626.2L522.65 626.1L525.12 626.01L527.6 625.92L530.08 625.84L532.57 625.77L535.05 625.7L537.53 625.64L540.02 625.58L542.51 625.52L544.99 625.47L547.48 625.42L549.97 625.38L552.47 625.34L554.96 625.3L557.46 625.26L559.95 625.23L562.45 625.2L564.95 625.16L567.44 625.13L569.44 625.11L571.44 625.09L573.45 625.07L575.45 625.04L577.45 625.02L579.45 625.01L581.46 624.99L583.46 624.97L585.47 624.95L587.47 624.94L589.48 624.92L591.48 624.91L593.49 624.89L595.5 624.88L597.51 624.87L599.52 624.86L601.52 624.84L603.53 624.83L605.54 624.82L607.55 624.82L609.56 624.81L611.58 624.8L613.59 624.79L615.6 624.79L617.61 624.78L619.62 624.78L621.64 624.77L623.65 624.77L625.66 624.77L627.68 624.76L629.69 624.76L631.71 624.76L633.72 624.76L635.74 624.76L637.75 624.76L639.77 624.76L641.78 624.76L643.8 624.76L645.81 624.77L647.83 624.77L649.85 624.77L651.86 624.78L653.88 624.78L655.9 624.79L657.91 624.79L659.93 624.8L661.95 624.81L663.96 624.81L665.98 624.82L668 624.83L670.02 624.84L672.03 624.84L674.05 624.85L676.07 624.86L678.09 624.87L680.1 624.88L682.12 624.89L684.14 624.91L686.15 624.92L688.17 624.93L690.19 624.94L692.21 624.95L694.22 624.97L696.24 624.98L698.26 624.99L700.27 625.01L702.29 625.02L704.3 625.04L706.32 625.05L708.34 625.06L710.35 625.08L712.37 625.1L714.38 625.11L716.4 625.13L718.41 625.14L720.42 625.16L722.44 625.18L724.45 625.19L726.47 625.21L728.48 625.23L730.49 625.24L732.5 625.26L734.52 625.28L736.53 625.3L738.54 625.31L740.55 625.33L742.56 625.35L744.57 625.37L746.58 625.39L748.59 625.41L750.6 625.42L752.6 625.44L754.61 625.46L756.62 625.48L758.62 625.5L760.63 625.52L762.64 625.54L764.64 625.56L766.65 625.58L768.65 625.6L770.65 625.61L772.65 625.63L774.66 625.65L776.66 625.67L778.66 625.69L780.66 625.71L783.16 625.73L785.66 625.76L788.15 625.78L790.65 625.8L793.14 625.83L795.64 625.85L798.13 625.87L800.62 625.9L803.11 625.92L805.6 625.94L808.08 625.97L810.57 625.99L813.06 626.01L815.54 626.03L818.02 626.05L820.5 626.07L822.98 626.09L825.46 626.11L827.93 626.13L830.41 626.15L832.88 626.17L835.35 626.19L837.82 626.21L840.29 626.23L842.76 626.24L845.22 626.26L847.68 626.28L850.15 626.29L852.61 626.31L855.06 626.32L857.52 626.34L859.97 626.35L862.43 626.37L864.88 626.38L867.33 626.39L869.77 626.4L872.22 626.41L874.66 626.42L877 626.4" stroke="#00ff00"/>
</g>
<g font-family="'Liberation Sans', Arial, Helvetica, sans-serif" font-size="18" text-anchor="middle"><text x="78" y="1035.9">0</text><text x="157.9" y="1035.9">20</text><text x="237.8" y="1035.9">40</text><text x="317.7" y="1035.9">60</text><text x="397.6" y="1035.9">80</text><text x="477.5" y="1035.9">100</text><text x="557.4" y="1035.9">120</text><text x="637.3" y="1035.9">140</text><text x="717.2" y="1035.9">160</text><text x="797.1" y="1035.9">180</text><text x="877" y="1035.9">200</text></g>
<g font-family="'Liberation Sans', Arial, Helvetica, sans-serif" font-size="18" text-anchor="end"><text x="75.4" y="1022.3">0</text><text x="75.4" y="955.58">0.5</text><text x="75.4" y="888.87">1</text><text x="75.4" y="822.15">1.5</text><text x="75.4" y="755.43">2</text><text x="75.4" y="688.72">2.5</text><text x="75.4" y="622">3</text></g>
<text x="77.8" y="611.1" font-family="'Liberation Sans', Arial, Helvetica, sans-serif" font-size="18">x 10<tspan font-size="13" dy="-11.3">4</tspan></text>
<text x="477.5" y="1057.8" font-family="'Liberation Sans', Arial, Helvetica, sans-serif" font-size="24" font-weight="bold" text-anchor="middle">t (days)</text>
<text transform="translate(29 815.5) rotate(-90)" font-family="'Liberation Sans', Arial, Helvetica, sans-serif" font-size="24" font-weight="bold" text-anchor="middle">E<tspan font-size="18" dy="12">v1</tspan></text>
<rect x="808.2" y="620.3" width="63.7" height="97" fill="#fff" stroke="#000" stroke-width="2"/>
<path d="M813.5 637.9H844.2" stroke="#0000ff" stroke-width="3"/><text x="846.8" y="641.3" font-family="'Liberation Serif', 'Times New Roman', serif" font-size="19" font-weight="bold">&#934;</text><text x="861.1" y="650.3" font-family="'Liberation Sans', Arial, Helvetica, sans-serif" font-size="15">1</text><path d="M813.5 668.7H844.2" stroke="#ff0000" stroke-width="3"/><text x="846.8" y="672.1" font-family="'Liberation Serif', 'Times New Roman', serif" font-size="19" font-weight="bold">&#934;</text><text x="861.1" y="681.1" font-family="'Liberation Sans', Arial, Helvetica, sans-serif" font-size="15">2</text><path d="M813.5 700H844.2" stroke="#00ff00" stroke-width="3"/><text x="846.8" y="703.4" font-family="'Liberation Serif', 'Times New Roman', serif" font-size="19" font-weight="bold">&#934;</text><text x="861.1" y="712.4" font-family="'Liberation Sans', Arial, Helvetica, sans-serif" font-size="15">3</text>
<text font-family="'Liberation Serif', 'Times New Roman', serif"><tspan x="380.9" y="1113.6" font-size="36">(</tspan><tspan x="392.2" y="1113.6" font-size="34">c</tspan><tspan x="407.9" y="1113.6" font-size="36">)</tspan><tspan x="433.8" y="1113.6" font-size="34" font-style="italic">E</tspan><tspan x="457.7" y="1118.5" font-size="24" font-style="italic">v</tspan><tspan x="474.7" y="1118.5" font-size="24">1</tspan><tspan x="491.7" y="1113.6" font-size="36">(</tspan><tspan x="502.6" y="1113.6" font-size="34" font-style="italic">t</tspan><tspan x="516.1" y="1113.6" font-size="36">)</tspan></text>
</g>
<g id="panel-d">
<path d="M1201.9 1015.8V1007.8M1201.9 615.4V623.4M1281.8 1015.8V1007.8M1281.8 615.4V623.4M1361.7 1015.8V1007.8M1361.7 615.4V623.4M1441.6 1015.8V1007.8M1441.6 615.4V623.4M1521.5 1015.8V1007.8M1521.5 615.4V623.4M1601.4 1015.8V1007.8M1601.4 615.4V623.4M1681.3 1015.8V1007.8M1681.3 615.4V623.4M1761.2 1015.8V1007.8M1761.2 615.4V623.4M1841.1 1015.8V1007.8M1841.1 615.4V623.4M1122 971.31H1130M1921 971.31H1913M1122 926.82H1130M1921 926.82H1913M1122 882.33H1130M1921 882.33H1913M1122 837.84H1130M1921 837.84H1913M1122 793.36H1130M1921 793.36H1913M1122 748.87H1130M1921 748.87H1913M1122 704.38H1130M1921 704.38H1913M1122 659.89H1130M1921 659.89H1913" stroke="#000" stroke-width="2.0" fill="none"/>
<rect x="1122" y="615.4" width="799" height="400.4" fill="none" stroke="#000" stroke-width="2.0"/>
<g fill="none" stroke-width="3.2" stroke-linejoin="round" stroke-linecap="butt">
<path d="M1122.2 1009.88L1123.7 1008.23L1125.7 1006.65L1127.7 1005.08L1129.7 1003.53L1131.7 1002L1133.7 1000.48L1135.7 998.98L1137.7 997.48L1139.7 996L1141.7 994.54L1143.7 993.08L1145.7 991.63L1147.7 990.19L1149.7 988.76L1151.7 987.34L1153.7 985.92L1155.7 984.51L1157.7 983.1L1159.7 981.69L1161.7 980.29L1163.7 978.9L1165.7 977.5L1167.7 976.11L1169.7 974.71L1171.7 973.3L1173.7 971.89L1175.7 970.47L1177.7 969.05L1179.7 967.63L1181.7 966.2L1183.7 964.77L1185.7 963.32L1187.7 961.88L1189.7 960.42L1191.7 958.95L1193.7 957.47L1195.7 955.99L1197.7 954.48L1199.7 952.97L1201.7 951.44L1203.7 949.89L1205.7 948.33L1207.7 946.75L1209.7 945.15L1211.7 943.53L1213.7 941.89L1215.7 940.22L1217.7 938.53L1219.7 936.81L1221.7 935.07L1223.2 933.74L1224.7 932.4L1226.2 931.04L1227.7 929.66L1229.2 928.27L1230.7 926.87L1232.2 925.45L1233.7 924.01L1235.2 922.56L1236.7 921.09L1238.2 919.61L1239.7 918.11L1241.2 916.6L1242.7 915.07L1244.2 913.52L1245.7 911.96L1247.2 910.39L1248.7 908.79L1250.2 907.18L1251.7 905.54L1253.2 903.88L1254.7 902.2L1256.2 900.5L1257.7 898.8L1259.2 897.07L1260.7 895.33L1262.2 893.58L1263.7 891.81L1265.2 890.03L1266.7 888.23L1268.2 886.42L1269.7 884.59L1271.2 882.75L1272.7 880.9L1274.2 879.03L1275.7 877.15L1277.2 875.26L1278.7 873.35L1280.2 871.43L1281.7 869.5L1283.2 867.55L1284.7 865.59L1286.2 863.63L1287.7 861.65L1289.2 859.66L1290.7 857.67L1292.2 855.66L1293.7 853.66L1295.2 851.64L1296.7 849.62L1298.2 847.6L1299.7 845.57L1301.2 843.58L1302.7 841.59L1304.2 839.6L1305.7 837.61L1307.2 835.63L1308.7 833.64L1310.2 831.66L1311.7 829.69L1313.2 827.72L1314.7 825.76L1316.2 823.81L1317.7 821.86L1319.2 819.92L1320.7 818L1322.2 816.08L1323.7 814.18L1325.2 812.28L1326.7 810.41L1328.2 808.54L1329.7 806.69L1331.2 804.85L1332.7 803.03L1334.2 801.23L1335.7 799.44L1337.2 797.67L1338.7 795.91L1340.2 794.18L1341.7 792.46L1343.2 790.76L1344.7 789.08L1346.2 787.42L1347.7 785.77L1349.2 784.15L1350.7 782.54L1352.2 780.97L1353.7 779.41L1355.2 777.86L1356.7 776.34L1358.2 774.82L1359.7 773.32L1361.2 771.84L1362.7 770.37L1364.2 768.92L1365.7 767.48L1367.2 766.05L1368.7 764.63L1370.2 763.23L1371.7 761.85L1373.2 760.47L1374.7 759.11L1376.2 757.76L1377.7 756.42L1379.2 755.09L1381.2 753.34L1383.2 751.61L1385.2 749.91L1387.2 748.22L1389.2 746.54L1391.2 744.89L1393.2 743.26L1395.2 741.65L1397.2 740.05L1399.2 738.48L1401.2 736.93L1403.2 735.4L1405.2 733.9L1407.2 732.41L1409.2 730.95L1411.2 729.52L1413.2 728.11L1415.2 726.72L1417.2 725.36L1419.2 724.02L1421.2 722.7L1423.2 721.4L1425.2 720.12L1427.2 718.87L1429.2 717.64L1431.2 716.43L1433.2 715.25L1435.2 714.09L1437.2 712.95L1439.2 711.84L1441.2 710.74L1443.2 709.66L1445.2 708.61L1447.2 707.57L1449.2 706.55L1451.2 705.56L1453.2 704.58L1455.2 703.62L1457.2 702.67L1459.2 701.75L1461.2 700.84L1463.2 699.94L1465.2 699.07L1467.2 698.21L1469.2 697.36L1471.2 696.53L1473.2 695.72L1475.2 694.92L1477.2 694.14L1479.2 693.37L1481.2 692.64L1483.2 691.95L1485.2 691.27L1487.2 690.6L1489.2 689.95L1491.2 689.31L1493.2 688.68L1495.2 688.06L1497.2 687.46L1499.2 686.86L1501.2 686.28L1503.2 685.71L1505.2 685.15L1507.2 684.6L1509.2 684.06L1511.2 683.53L1513.2 683.01L1515.2 682.51L1517.2 682.01L1519.2 681.52L1521.2 681.04L1523.2 680.57L1525.2 680.11L1527.2 679.65L1529.2 679.21L1531.2 678.78L1533.2 678.35L1535.2 677.93L1537.2 677.52L1539.2 677.12L1541.2 676.73L1543.2 676.34L1545.2 675.96L1547.2 675.59L1549.2 675.23L1551.2 674.87L1553.2 674.52L1555.2 674.18L1557.2 673.84L1559.2 673.51L1561.2 673.17L1563.2 672.83L1565.2 672.5L1567.2 672.17L1569.2 671.85L1571.2 671.54L1573.2 671.23L1575.2 670.92L1577.2 670.63L1579.2 670.33L1581.2 670.05L1583.2 669.76L1585.2 669.49L1587.2 669.21L1589.2 668.94L1591.2 668.68L1593.2 668.42L1595.2 668.17L1597.2 667.92L1599.2 667.67L1601.2 667.43L1603.2 667.19L1605.2 666.96L1607.2 666.73L1609.2 666.5L1611.2 666.28L1613.2 666.06L1615.2 665.85L1617.2 665.63L1619.2 665.43L1621.2 665.22L1623.2 665.02L1625.2 664.82L1627.2 664.63L1629.2 664.44L1631.2 664.25L1633.2 664.07L1635.2 663.89L1637.2 663.71L1639.2 663.53L1641.2 663.38L1643.2 663.23L1645.2 663.09L1647.2 662.95L1649.2 662.81L1651.2 662.68L1653.2 662.55L1655.2 662.42L1657.2 662.3L1659.2 662.17L1661.2 662.06L1663.2 661.94L1665.2 661.83L1667.2 661.72L1669.2 661.61L1671.2 661.5L1673.2 661.4L1675.2 661.3L1677.2 661.2L1679.2 661.11L1681.2 661.01L1683.2 660.92L1685.2 660.84L1687.2 660.75L1689.2 660.67L1691.2 660.59L1693.2 660.51L1695.2 660.43L1697.2 660.35L1699.2 660.28L1701.2 660.21L1703.2 660.14L1705.2 660.08L1707.2 660.01L1709.2 659.95L1711.2 659.89L1713.2 659.83L1715.2 659.77L1717.2 659.72L1719.2 659.67L1721.2 659.61L1723.2 659.56L1725.2 659.52L1727.2 659.47L1729.2 659.42L1731.2 659.38L1733.2 659.34L1735.2 659.3L1737.2 659.26L1739.2 659.22L1741.2 659.18L1743.2 659.15L1745.2 659.11L1747.2 659.08L1749.2 659.05L1751.2 659.02L1753.2 658.99L1755.2 658.96L1757.2 658.93L1759.2 658.9L1761.2 658.88L1763.2 658.85L1765.2 658.83L1767.2 658.81L1769.2 658.79L1771.2 658.76L1773.2 658.74L1775.2 658.72L1777.2 658.71L1779.2 658.69L1781.2 658.67L1783.2 658.65L1785.2 658.63L1787.2 658.62L1789.2 658.6L1791.2 658.59L1793.2 658.57L1795.2 658.56L1797.2 658.54L1799.2 658.53L1801.2 658.51L1803.2 658.5L1805.2 658.49L1807.2 658.47L1809.2 658.46L1811.2 658.45L1813.2 658.43L1815.2 658.42L1817.2 658.4L1819.2 658.39L1821.2 658.38L1823.2 658.36L1825.2 658.35L1827.2 658.33L1829.2 658.32L1831.2 658.3L1833.2 658.29L1835.2 658.27L1837.2 658.25L1839.2 658.24L1841.2 658.22L1843.2 658.2L1845.2 658.18L1847.2 658.16L1849.2 658.14L1851.2 658.12L1853.2 658.1L1855.2 658.08L1857.2 658.06L1859.2 658.03L1861.2 658.01L1863.2 657.98L1865.2 657.96L1867.2 657.93L1869.2 657.9L1871.2 657.87L1873.2 657.84L1875.2 657.81L1877.2 657.77L1879.2 657.74L1881.2 657.7L1883.2 657.67L1885.2 657.63L1887.2 657.59L1889.2 657.55L1891.2 657.51L1893.2 657.46L1895.2 657.42L1897.2 657.37L1899.2 657.32L1901.2 657.27L1903.2 657.22L1905.2 657.17L1907.2 657.11L1909.2 657.37L1911.2 657.38L1913.2 657.38L1915.2 657.39L1917.2 657.39L1919.2 657.4L1921 657.4" stroke="#0000ff"/>
<path d="M1122.2 1009.89L1123.7 1008.25L1125.7 1006.69L1127.7 1005.14L1129.7 1003.62L1131.7 1002.1L1133.7 1000.6L1135.7 999.12L1137.7 997.65L1139.7 996.19L1141.7 994.74L1143.7 993.3L1145.7 991.87L1147.7 990.45L1149.7 989.04L1151.7 987.63L1153.7 986.23L1155.7 984.84L1157.7 983.45L1159.7 982.07L1161.7 980.69L1163.7 979.31L1165.7 977.93L1167.7 976.56L1169.7 975.18L1171.7 973.8L1173.7 972.42L1175.7 971.03L1177.7 969.65L1179.7 968.26L1181.7 966.86L1183.7 965.46L1185.7 964.05L1187.7 962.64L1189.7 961.22L1191.7 959.79L1193.7 958.35L1195.7 956.9L1197.7 955.44L1199.7 953.96L1201.7 952.48L1203.7 950.97L1205.7 949.46L1207.7 947.92L1209.7 946.37L1211.7 944.8L1213.7 943.21L1215.7 941.6L1217.7 939.97L1219.7 938.31L1221.7 936.62L1223.7 934.91L1225.7 933.18L1227.7 931.41L1229.2 930.08L1230.7 928.72L1232.2 927.35L1233.7 925.97L1235.2 924.57L1236.7 923.15L1238.2 921.72L1239.7 920.28L1241.2 918.82L1242.7 917.34L1244.2 915.85L1245.7 914.35L1247.2 912.83L1248.7 911.3L1250.2 909.75L1251.7 908.17L1253.2 906.58L1254.7 904.98L1256.2 903.36L1257.7 901.72L1259.2 900.07L1260.7 898.41L1262.2 896.73L1263.7 895.04L1265.2 893.33L1266.7 891.61L1268.2 889.88L1269.7 888.13L1271.2 886.37L1272.7 884.6L1274.2 882.81L1275.7 881.01L1277.2 879.19L1278.7 877.37L1280.2 875.53L1281.7 873.68L1283.2 871.81L1284.7 869.94L1286.2 868.05L1287.7 866.15L1289.2 864.24L1290.7 862.32L1292.2 860.4L1293.7 858.46L1295.2 856.52L1296.7 854.57L1298.2 852.61L1299.7 850.65L1301.2 848.7L1302.7 846.76L1304.2 844.81L1305.7 842.86L1307.2 840.91L1308.7 838.96L1310.2 837.01L1311.7 835.06L1313.2 833.12L1314.7 831.18L1316.2 829.24L1317.7 827.31L1319.2 825.39L1320.7 823.47L1322.2 821.57L1323.7 819.67L1325.2 817.78L1326.7 815.9L1328.2 814.04L1329.7 812.18L1331.2 810.34L1332.7 808.51L1334.2 806.69L1335.7 804.89L1337.2 803.11L1338.7 801.33L1340.2 799.58L1341.7 797.84L1343.2 796.12L1344.7 794.41L1346.2 792.73L1347.7 791.06L1349.2 789.41L1350.7 787.78L1352.2 786.17L1353.7 784.58L1355.2 783L1356.7 781.44L1358.2 779.9L1359.7 778.37L1361.2 776.86L1362.7 775.36L1364.2 773.88L1365.7 772.41L1367.2 770.96L1368.7 769.52L1370.2 768.09L1371.7 766.68L1373.2 765.28L1374.7 763.89L1376.2 762.51L1377.7 761.15L1379.2 759.8L1380.7 758.46L1382.2 757.14L1384.2 755.39L1386.2 753.66L1388.2 751.95L1390.2 750.26L1392.2 748.59L1394.2 746.94L1396.2 745.31L1398.2 743.69L1400.2 742.1L1402.2 740.52L1404.2 738.96L1406.2 737.43L1408.2 735.91L1410.2 734.42L1412.2 732.95L1414.2 731.5L1416.2 730.07L1418.2 728.67L1420.2 727.29L1422.2 725.93L1424.2 724.59L1426.2 723.27L1428.2 721.98L1430.2 720.72L1432.2 719.48L1434.2 718.26L1436.2 717.06L1438.2 715.89L1440.2 714.74L1442.2 713.61L1444.2 712.51L1446.2 711.42L1448.2 710.36L1450.2 709.31L1452.2 708.28L1454.2 707.28L1456.2 706.29L1458.2 705.32L1460.2 704.37L1462.2 703.44L1464.2 702.52L1466.2 701.62L1468.2 700.74L1470.2 699.87L1472.2 699.02L1474.2 698.19L1476.2 697.37L1478.2 696.56L1480.2 695.77L1482.2 695.03L1484.2 694.29L1486.2 693.57L1488.2 692.86L1490.2 692.17L1492.2 691.49L1494.2 690.82L1496.2 690.17L1498.2 689.52L1500.2 688.89L1502.2 688.27L1504.2 687.66L1506.2 687.07L1508.2 686.48L1510.2 685.91L1512.2 685.35L1514.2 684.8L1516.2 684.25L1518.2 683.72L1520.2 683.2L1522.2 682.69L1524.2 682.19L1526.2 681.7L1528.2 681.22L1530.2 680.74L1532.2 680.28L1534.2 679.82L1536.2 679.38L1538.2 678.94L1540.2 678.51L1542.2 678.09L1544.2 677.68L1546.2 677.27L1548.2 676.87L1550.2 676.48L1552.2 676.1L1554.2 675.73L1556.2 675.36L1558.2 675L1560.2 674.65L1562.2 674.3L1564.2 673.95L1566.2 673.61L1568.2 673.28L1570.2 672.96L1572.2 672.64L1574.2 672.33L1576.2 672.02L1578.2 671.72L1580.2 671.42L1582.2 671.13L1584.2 670.85L1586.2 670.57L1588.2 670.29L1590.2 670.02L1592.2 669.76L1594.2 669.5L1596.2 669.25L1598.2 669L1600.2 668.75L1602.2 668.51L1604.2 668.28L1606.2 668.04L1608.2 667.81L1610.2 667.59L1612.2 667.37L1614.2 667.15L1616.2 666.94L1618.2 666.73L1620.2 666.53L1622.2 666.32L1624.2 666.13L1626.2 665.93L1628.2 665.74L1630.2 665.55L1632.2 665.37L1634.2 665.19L1636.2 665.01L1638.2 664.84L1640.2 664.67L1642.2 664.51L1644.2 664.35L1646.2 664.2L1648.2 664.05L1650.2 663.9L1652.2 663.76L1654.2 663.62L1656.2 663.48L1658.2 663.34L1660.2 663.21L1662.2 663.08L1664.2 662.96L1666.2 662.83L1668.2 662.71L1670.2 662.6L1672.2 662.48L1674.2 662.37L1676.2 662.26L1678.2 662.15L1680.2 662.05L1682.2 661.95L1684.2 661.85L1686.2 661.75L1688.2 661.66L1690.2 661.56L1692.2 661.47L1694.2 661.39L1696.2 661.3L1698.2 661.22L1700.2 661.14L1702.2 661.06L1704.2 660.98L1706.2 660.91L1708.2 660.84L1710.2 660.77L1712.2 660.7L1714.2 660.63L1716.2 660.57L1718.2 660.51L1720.2 660.45L1722.2 660.39L1724.2 660.33L1726.2 660.28L1728.2 660.22L1730.2 660.17L1732.2 660.12L1734.2 660.07L1736.2 660.03L1738.2 659.98L1740.2 659.94L1742.2 659.89L1744.2 659.85L1746.2 659.81L1748.2 659.77L1750.2 659.74L1752.2 659.7L1754.2 659.67L1756.2 659.63L1758.2 659.6L1760.2 659.57L1762.2 659.54L1764.2 659.51L1766.2 659.48L1768.2 659.45L1770.2 659.43L1772.2 659.4L1774.2 659.38L1776.2 659.35L1778.2 659.33L1780.2 659.31L1782.2 659.28L1784.2 659.26L1786.2 659.24L1788.2 659.22L1790.2 659.2L1792.2 659.18L1794.2 659.17L1796.2 659.15L1798.2 659.13L1800.2 659.11L1802.2 659.1L1804.2 659.08L1806.2 659.06L1808.2 659.05L1810.2 659.03L1812.2 659.01L1814.2 659L1816.2 658.98L1818.2 658.97L1820.2 658.95L1822.2 658.94L1824.2 658.92L1826.2 658.9L1828.2 658.89L1830.2 658.87L1832.2 658.86L1834.2 658.84L1836.2 658.82L1838.2 658.8L1840.2 658.79L1842.2 658.77L1844.2 658.75L1846.2 658.73L1848.2 658.71L1850.2 658.69L1852.2 658.67L1854.2 658.65L1856.2 658.62L1858.2 658.6L1860.2 658.58L1862.2 658.55L1864.2 658.53L1866.2 658.5L1868.2 658.48L1870.2 658.45L1872.2 658.42L1874.2 658.39L1876.2 658.36L1878.2 658.32L1880.2 658.29L1882.2 658.26L1884.2 658.22L1886.2 658.18L1888.2 658.15L1890.2 658.11L1892.2 658.07L1894.2 658.02L1896.2 657.98L1898.2 657.94L1900.2 657.89L1902.2 657.84L1904.2 657.79L1906.2 657.74L1908.2 657.69L1910.2 657.64L1912.2 657.58L1914.2 657.62L1916.2 657.79L1918.2 657.8L1920.2 657.8L1921 657.8" stroke="#ff0000"/>
<path d="M1122.2 1009.9L1123.71 1008.27L1125.34 1007.01L1126.98 1005.76L1128.62 1004.52L1130.26 1003.29L1131.91 1002.07L1133.55 1000.85L1135.2 999.65L1136.86 998.45L1138.51 997.25L1140.16 996.07L1141.82 994.89L1143.48 993.71L1145.14 992.54L1146.8 991.38L1148.46 990.22L1150.12 989.07L1151.78 987.92L1153.44 986.78L1155.1 985.63L1156.76 984.5L1158.43 983.36L1160.09 982.23L1161.75 981.1L1163.41 979.98L1165.07 978.85L1166.73 977.73L1168.39 976.61L1170.46 975.21L1172.53 973.81L1174.59 972.41L1176.66 971.01L1178.71 969.61L1180.77 968.21L1182.82 966.81L1184.87 965.4L1186.92 964L1188.96 962.58L1190.99 961.17L1193.02 959.75L1195.04 958.32L1197.06 956.89L1199.07 955.45L1201.07 954L1203.07 952.55L1205.06 951.09L1207.05 949.62L1209.02 948.14L1210.99 946.64L1212.95 945.14L1214.9 943.63L1216.84 942.1L1218.77 940.57L1220.69 939.02L1222.6 937.45L1224.5 935.87L1226.39 934.28L1228.28 932.67L1230.15 931.05L1232.01 929.41L1233.86 927.77L1235.7 926.1L1237.53 924.43L1239.35 922.74L1241.17 921.05L1242.97 919.33L1244.77 917.61L1246.55 915.88L1248.33 914.13L1250.1 912.38L1251.86 910.61L1253.61 908.83L1255.35 907.04L1257.08 905.25L1258.81 903.44L1260.18 901.98L1261.55 900.53L1262.92 899.06L1264.28 897.59L1265.63 896.11L1266.98 894.63L1268.32 893.15L1269.66 891.65L1271 890.16L1272.33 888.65L1273.66 887.15L1274.98 885.64L1276.29 884.12L1277.6 882.6L1278.91 881.07L1280.22 879.55L1281.51 878.01L1282.81 876.48L1284.1 874.94L1285.39 873.39L1286.67 871.84L1287.95 870.29L1289.22 868.74L1290.49 867.18L1291.76 865.62L1293.02 864.06L1294.28 862.49L1295.54 860.93L1296.8 859.36L1298.05 857.78L1299.3 856.21L1300.55 854.64L1301.79 853.06L1303.04 851.48L1304.28 849.91L1305.52 848.33L1306.76 846.75L1308 845.17L1309.24 843.59L1310.48 842.01L1311.72 840.43L1312.96 838.85L1314.2 837.27L1315.44 835.69L1316.68 834.12L1317.92 832.54L1319.16 830.97L1320.4 829.39L1321.65 827.82L1322.89 826.26L1324.14 824.69L1325.39 823.13L1326.65 821.56L1327.9 820.01L1329.16 818.45L1330.42 816.9L1332 814.96L1333.59 813.03L1335.18 811.11L1336.78 809.19L1338.39 807.28L1340 805.38L1341.62 803.48L1343.25 801.59L1344.89 799.71L1346.53 797.84L1348.19 795.98L1349.85 794.13L1351.53 792.28L1353.21 790.45L1354.91 788.63L1356.61 786.82L1358.33 785.02L1360.06 783.22L1361.8 781.44L1363.54 779.67L1365.3 777.91L1367.07 776.16L1368.85 774.42L1370.64 772.68L1372.44 770.96L1374.25 769.25L1376.07 767.55L1377.9 765.85L1379.75 764.17L1381.6 762.49L1383.46 760.83L1385.33 759.17L1386.84 757.85L1388.35 756.54L1389.87 755.23L1391.39 753.93L1392.93 752.64L1394.46 751.35L1396.01 750.07L1397.56 748.79L1399.12 747.52L1400.68 746.25L1402.25 744.99L1403.83 743.74L1405.41 742.49L1407 741.25L1408.6 740.01L1410.2 738.79L1411.81 737.57L1413.43 736.36L1415.05 735.16L1416.68 733.97L1418.32 732.78L1419.96 731.61L1421.61 730.45L1423.26 729.3L1424.92 728.16L1426.59 727.04L1428.26 725.92L1429.94 724.82L1431.63 723.73L1433.32 722.66L1435.02 721.6L1436.73 720.55L1438.87 719.26L1441.02 717.99L1443.18 716.74L1445.35 715.51L1447.52 714.31L1449.71 713.12L1451.91 711.95L1454.11 710.81L1456.32 709.68L1458.54 708.57L1460.77 707.48L1463.01 706.41L1465.26 705.36L1467.51 704.33L1469.77 703.31L1472.04 702.32L1474.32 701.34L1476.61 700.38L1478.9 699.44L1481.2 698.51L1483.5 697.6L1485.82 696.71L1488.14 695.84L1490.46 694.98L1492.8 694.14L1495.14 693.31L1497.48 692.5L1499.83 691.71L1502.19 690.93L1504.56 690.17L1506.93 689.42L1509.3 688.69L1511.68 687.97L1514.07 687.27L1516.46 686.58L1518.86 685.9L1521.26 685.24L1523.67 684.6L1526.08 683.96L1528.49 683.34L1530.91 682.74L1533.34 682.14L1535.77 681.56L1538.2 680.99L1540.64 680.44L1542.59 680L1544.54 679.57L1546.5 679.15L1548.46 678.74L1550.42 678.33L1552.39 677.93L1554.35 677.54L1556.32 677.16L1558.29 676.78L1560.26 676.41L1562.24 676.05L1564.21 675.69L1566.19 675.34L1568.17 674.99L1570.15 674.66L1572.13 674.32L1574.11 674L1576.09 673.68L1578.08 673.37L1580.07 673.06L1582.05 672.76L1584.04 672.46L1586.03 672.17L1588.02 671.88L1590.01 671.6L1592.01 671.33L1594 671.06L1595.99 670.79L1597.99 670.53L1599.98 670.28L1601.98 670.03L1603.97 669.78L1605.97 669.54L1607.97 669.3L1609.96 669.07L1611.96 668.84L1613.96 668.62L1615.95 668.4L1617.95 668.18L1619.95 667.97L1621.94 667.76L1623.94 667.55L1625.94 667.35L1627.93 667.15L1629.93 666.96L1631.93 666.77L1633.92 666.58L1635.92 666.4L1637.91 666.22L1639.91 666.04L1641.91 665.87L1643.9 665.7L1645.9 665.53L1647.89 665.37L1649.89 665.21L1651.88 665.05L1653.88 664.9L1655.87 664.75L1657.87 664.6L1659.86 664.45L1661.86 664.31L1664.35 664.14L1666.85 663.97L1669.34 663.81L1671.83 663.65L1674.33 663.5L1676.82 663.34L1679.32 663.2L1681.81 663.06L1684.3 662.92L1686.8 662.79L1689.29 662.66L1691.78 662.53L1694.28 662.41L1696.77 662.29L1699.26 662.17L1701.76 662.06L1704.25 661.96L1706.74 661.85L1709.24 661.75L1711.73 661.65L1714.22 661.56L1716.71 661.47L1719.21 661.38L1721.7 661.29L1724.19 661.21L1726.69 661.13L1729.18 661.06L1731.67 660.98L1734.17 660.91L1736.66 660.84L1739.15 660.78L1741.65 660.71L1744.14 660.65L1746.63 660.59L1749.13 660.54L1751.62 660.48L1754.12 660.43L1756.61 660.38L1759.1 660.33L1761.6 660.29L1764.09 660.24L1766.58 660.2L1769.08 660.16L1771.57 660.12L1774.07 660.08L1776.56 660.04L1779.06 660.01L1781.55 659.97L1784.05 659.94L1786.54 659.91L1789.04 659.88L1791.53 659.85L1794.03 659.82L1796.52 659.79L1799.02 659.76L1801.51 659.74L1804.01 659.71L1806.5 659.69L1809 659.66L1811.5 659.64L1813.99 659.61L1816.49 659.59L1818.99 659.57L1821.48 659.54L1823.98 659.52L1826.48 659.5L1828.97 659.47L1831.47 659.45L1833.97 659.43L1836.47 659.4L1838.97 659.38L1841.46 659.35L1843.96 659.33L1846.46 659.3L1848.96 659.28L1851.46 659.25L1853.96 659.22L1856.46 659.19L1858.96 659.16L1860.96 659.14L1862.96 659.11L1864.96 659.09L1866.96 659.06L1868.96 659.03L1870.96 659.01L1872.96 658.98L1874.96 658.95L1876.96 658.92L1878.96 658.88L1880.97 658.85L1882.97 658.82L1884.97 658.78L1886.97 658.74L1888.97 658.71L1890.98 658.67L1892.98 658.63L1894.98 658.59L1896.99 658.55L1898.99 658.5L1900.99 658.46L1903 658.41L1905 658.36L1907 658.31L1909.01 658.26L1911.01 658.21L1913.02 658.15L1915.02 658.1L1917.03 658.04L1919.03 657.98L1921 658.2" stroke="#00ff00"/>
</g>
<g font-family="'Liberation Sans', Arial, Helvetica, sans-serif" font-size="18" text-anchor="middle"><text x="1122" y="1036">0</text><text x="1201.9" y="1036">20</text><text x="1281.8" y="1036">40</text><text x="1361.7" y="1036">60</text><text x="1441.6" y="1036">80</text><text x="1521.5" y="1036">100</text><text x="1601.4" y="1036">120</text><text x="1681.3" y="1036">140</text><text x="1761.2" y="1036">160</text><text x="1841.1" y="1036">180</text><text x="1921" y="1036">200</text></g>
<g font-family="'Liberation Sans', Arial, Helvetica, sans-serif" font-size="18" text-anchor="end"><text x="1119.4" y="1022.4">0</text><text x="1119.4" y="977.91">0.5</text><text x="1119.4" y="933.42">1</text><text x="1119.4" y="888.93">1.5</text><text x="1119.4" y="844.44">2</text><text x="1119.4" y="799.96">2.5</text><text x="1119.4" y="755.47">3</text><text x="1119.4" y="710.98">3.5</text><text x="1119.4" y="666.49">4</text><text x="1119.4" y="622">4.5</text></g>
<text x="1121.8" y="611.1" font-family="'Liberation Sans', Arial, Helvetica, sans-serif" font-size="18">x 10<tspan font-size="13" dy="-11.3">4</tspan></text>
<text x="1521.5" y="1057.9" font-family="'Liberation Sans', Arial, Helvetica, sans-serif" font-size="24" font-weight="bold" text-anchor="middle">t (days)</text>
<text transform="translate(1073.1 815.4) rotate(-90)" font-family="'Liberation Sans', Arial, Helvetica, sans-serif" font-size="24" font-weight="bold" text-anchor="middle">E<tspan font-size="18" dy="12">v2</tspan></text>
<rect x="1852.1" y="620.3" width="63.7" height="97" fill="#fff" stroke="#000" stroke-width="2"/>
<path d="M1857.4 637.9H1888.1" stroke="#0000ff" stroke-width="3"/><text x="1890.7" y="641.3" font-family="'Liberation Serif', 'Times New Roman', serif" font-size="19" font-weight="bold">&#934;</text><text x="1905" y="650.3" font-family="'Liberation Sans', Arial, Helvetica, sans-serif" font-size="15">1</text><path d="M1857.4 668.7H1888.1" stroke="#ff0000" stroke-width="3"/><text x="1890.7" y="672.1" font-family="'Liberation Serif', 'Times New Roman', serif" font-size="19" font-weight="bold">&#934;</text><text x="1905" y="681.1" font-family="'Liberation Sans', Arial, Helvetica, sans-serif" font-size="15">2</text><path d="M1857.4 700H1888.1" stroke="#00ff00" stroke-width="3"/><text x="1890.7" y="703.4" font-family="'Liberation Serif', 'Times New Roman', serif" font-size="19" font-weight="bold">&#934;</text><text x="1905" y="712.4" font-family="'Liberation Sans', Arial, Helvetica, sans-serif" font-size="15">3</text>
<text font-family="'Liberation Serif', 'Times New Roman', serif"><tspan x="1424.9" y="1113.6" font-size="36">(</tspan><tspan x="1436.2" y="1113.6" font-size="34">d</tspan><tspan x="1451.9" y="1113.6" font-size="36">)</tspan><tspan x="1477.8" y="1113.6" font-size="34" font-style="italic">E</tspan><tspan x="1501.7" y="1118.5" font-size="24" font-style="italic">v</tspan><tspan x="1518.7" y="1118.5" font-size="24">2</tspan><tspan x="1535.7" y="1113.6" font-size="36">(</tspan><tspan x="1546.6" y="1113.6" font-size="34" font-style="italic">t</tspan><tspan x="1560.1" y="1113.6" font-size="36">)</tspan></text>
</g>
<g id="panel-e">
<path d="M171.33 1606.4V1598.4M171.33 1206V1214M251.26 1606.4V1598.4M251.26 1206V1214M331.19 1606.4V1598.4M331.19 1206V1214M411.12 1606.4V1598.4M411.12 1206V1214M491.05 1606.4V1598.4M491.05 1206V1214M570.98 1606.4V1598.4M570.98 1206V1214M650.91 1606.4V1598.4M650.91 1206V1214M730.84 1606.4V1598.4M730.84 1206V1214M810.77 1606.4V1598.4M810.77 1206V1214M91.4 1472.93H99.4M890.7 1472.93H882.7M91.4 1339.47H99.4M890.7 1339.47H882.7" stroke="#000" stroke-width="2.0" fill="none"/>
<rect x="91.4" y="1206" width="799.3" height="400.4" fill="none" stroke="#000" stroke-width="2.0"/>
<g fill="none" stroke-width="3.2" stroke-linejoin="round" stroke-linecap="butt">
<path d="M91.4 1580.2L93.4 1581.37L95.4 1581.94L97.4 1582.43L99.4 1582.84L101.4 1583.18L103.4 1583.45L105.4 1583.66L107.4 1583.79L109.4 1583.86L111.4 1583.86L113.4 1583.8L115.4 1583.68L117.4 1583.51L119.4 1583.27L121.4 1582.98L123.4 1582.62L125.4 1582.22L127.4 1581.76L129.4 1581.25L131.4 1580.7L133.4 1580.11L135.4 1579.47L137.4 1578.8L139.4 1578.09L141.4 1577.35L143.4 1576.59L145.4 1575.79L147.4 1574.95L149.4 1574.09L151.4 1573.2L153.4 1572.27L155.4 1571.3L157.4 1570.31L159.4 1569.27L161.4 1568.2L163.4 1567.1L165.4 1565.95L167.4 1564.77L169.4 1563.55L171.4 1562.27L173.4 1560.94L175.4 1559.57L177.4 1558.16L179.4 1556.7L181.4 1555.19L183.4 1553.63L185.4 1552.03L187.4 1550.37L189.4 1548.67L191.4 1546.93L192.9 1545.58L194.4 1544.22L195.9 1542.82L197.4 1541.4L198.9 1539.96L200.4 1538.48L201.9 1536.99L203.4 1535.46L204.9 1533.92L206.4 1532.34L207.9 1530.75L209.4 1529.12L210.9 1527.47L212.4 1525.8L213.9 1524.1L215.4 1522.37L216.9 1520.62L218.4 1518.85L219.9 1517.04L221.4 1515.21L222.9 1513.36L224.4 1511.47L225.9 1509.57L227.4 1507.63L228.9 1505.67L230.4 1503.7L231.9 1501.74L233.4 1499.76L234.9 1497.75L236.4 1495.72L237.9 1493.67L239.4 1491.59L240.9 1489.49L242.4 1487.37L243.9 1485.23L245.4 1483.07L246.9 1480.89L248.4 1478.69L249.9 1476.47L251.4 1474.23L252.9 1471.98L254.4 1469.7L255.9 1467.42L257.4 1465.12L258.9 1462.8L260.4 1460.48L261.9 1458.14L263.4 1455.79L264.9 1453.44L266.4 1451.07L267.9 1448.7L269.4 1446.33L270.9 1443.95L272.4 1441.56L273.9 1439.18L275.4 1436.79L276.9 1434.4L278.4 1432.01L279.9 1429.62L281.4 1427.23L282.9 1424.83L284.4 1422.44L285.9 1420.04L287.4 1417.65L288.9 1415.26L290.4 1412.86L291.9 1410.47L293.4 1408.09L294.9 1405.7L296.4 1403.32L297.9 1400.93L299.4 1398.56L300.9 1396.16L302.4 1393.76L303.9 1391.37L305.4 1388.98L306.9 1386.6L308.4 1384.23L309.9 1381.86L311.4 1379.5L312.9 1377.16L314.4 1374.82L315.9 1372.49L317.4 1370.18L318.9 1367.87L320.4 1365.58L321.9 1363.3L323.4 1361.04L324.9 1358.79L326.4 1356.55L327.9 1354.33L329.4 1352.13L330.9 1349.94L332.4 1347.76L333.9 1345.6L335.4 1343.46L336.9 1341.34L338.4 1339.23L339.9 1337.14L341.4 1335.07L342.9 1333.02L344.4 1330.99L345.9 1328.97L347.4 1326.98L348.9 1325L350.4 1323.04L351.9 1321.1L353.4 1319.19L354.9 1317.29L356.4 1315.41L357.9 1313.55L359.4 1311.71L360.9 1309.93L362.4 1308.2L363.9 1306.48L365.4 1304.78L366.9 1303.1L368.4 1301.44L369.9 1299.8L371.4 1298.18L372.9 1296.58L374.4 1294.99L375.9 1293.42L377.4 1291.88L378.9 1290.35L380.4 1288.84L381.9 1287.34L383.4 1285.87L384.9 1284.42L386.4 1282.98L387.9 1281.56L389.4 1280.16L390.9 1278.78L392.4 1277.42L393.9 1276.07L395.4 1274.74L397.4 1273L399.4 1271.29L401.4 1269.61L403.4 1267.96L405.4 1266.34L407.4 1264.75L409.4 1263.2L411.4 1261.67L413.4 1260.17L415.4 1258.69L417.4 1257.25L419.4 1255.84L421.4 1254.45L423.4 1253.09L425.4 1251.75L427.4 1250.44L429.4 1249.16L431.4 1247.9L433.4 1246.67L435.4 1245.47L437.4 1244.29L439.4 1243.13L441.4 1242L443.4 1240.9L445.4 1239.81L447.4 1238.76L449.4 1237.72L451.4 1236.73L453.4 1235.77L455.4 1234.83L457.4 1233.91L459.4 1233.01L461.4 1232.14L463.4 1231.29L465.4 1230.47L467.4 1229.66L469.4 1228.88L471.4 1228.12L473.4 1227.38L475.4 1226.67L477.4 1225.98L479.4 1225.31L481.4 1224.66L483.4 1224.03L485.4 1223.42L487.4 1222.83L489.4 1222.27L491.4 1221.72L493.4 1221.19L495.4 1220.67L497.4 1220.18L499.4 1219.7L501.4 1219.23L503.4 1218.78L505.4 1218.35L507.4 1217.93L509.4 1217.53L511.4 1217.14L513.4 1216.76L515.4 1216.4L517.4 1216.04L519.4 1215.7L521.4 1215.38L523.4 1215.06L525.4 1214.75L527.4 1214.46L529.4 1214.17L531.4 1213.89L533.4 1213.63L535.4 1213.37L537.4 1213.12L539.4 1212.87L541.4 1212.64L543.4 1212.41L545.4 1212.19L547.4 1211.98L549.4 1211.77L551.4 1211.57L553.4 1211.38L555.4 1211.19L557.4 1211L559.4 1210.82L561.4 1210.65L563.4 1210.48L565.4 1210.31L567.4 1210.15L569.4 1209.99L571.4 1209.84L573.4 1209.7L575.4 1209.55L577.4 1209.41L579.4 1209.28L581.4 1209.15L583.4 1209.02L585.4 1208.9L587.4 1208.78L589.4 1208.67L591.4 1208.56L593.4 1208.46L595.4 1208.35L597.4 1208.26L599.4 1208.16L601.4 1208.07L603.4 1207.99L605.4 1207.91L607.4 1207.83L609.4 1207.76L611.4 1207.69L613.4 1207.63L615.4 1207.57L617.4 1207.51L619.4 1207.45L621.4 1207.4L623.4 1207.35L625.4 1207.3L627.4 1207.26L629.4 1207.22L631.4 1207.18L633.4 1207.15L635.4 1207.11L637.4 1207.08L639.4 1207.06L641.4 1207.03L643.4 1207.01L645.4 1206.99L647.4 1206.98L649.4 1206.96L651.4 1206.95L653.4 1206.94L655.4 1206.94L657.4 1206.93L659.4 1206.93L661.4 1206.93L663.4 1206.93L665.4 1206.93L667.4 1206.94L669.4 1206.95L671.4 1206.95L673.4 1206.97L675.4 1206.98L677.4 1206.99L679.4 1207.01L681.4 1207.03L683.4 1207.04L685.4 1207.06L687.4 1207.09L689.4 1207.11L691.4 1207.13L693.4 1207.16L695.4 1207.19L697.4 1207.21L699.4 1207.24L701.4 1207.27L703.4 1207.3L705.4 1207.34L707.4 1207.37L709.4 1207.4L711.4 1207.44L713.4 1207.47L715.4 1207.51L717.4 1207.54L719.4 1207.58L721.4 1207.62L723.4 1207.65L725.4 1207.69L727.4 1207.73L729.4 1207.77L731.4 1207.81L733.4 1207.85L735.4 1207.88L737.4 1207.92L739.4 1207.96L741.4 1208L743.4 1208.04L745.4 1208.08L747.4 1208.12L749.4 1208.15L751.4 1208.19L753.4 1208.23L755.4 1208.27L757.4 1208.3L759.4 1208.34L761.4 1208.37L763.4 1208.41L765.4 1208.44L767.4 1208.47L769.4 1208.51L771.4 1208.54L773.4 1208.57L775.4 1208.6L777.4 1208.63L779.4 1208.65L781.4 1208.68L783.4 1208.7L785.4 1208.73L787.4 1208.75L789.4 1208.77L791.4 1208.79L793.4 1208.81L795.4 1208.82L797.4 1208.84L799.4 1208.85L801.4 1208.86L803.4 1208.87L805.4 1208.88L807.4 1208.89L809.4 1208.89L811.4 1208.89L813.4 1208.89L815.4 1208.89L817.4 1208.89L819.4 1208.88L821.4 1208.87L823.4 1208.86L825.4 1208.85L827.4 1208.84L829.4 1208.82L831.4 1208.8L833.4 1208.77L835.4 1208.75L837.4 1208.72L839.4 1208.69L841.4 1208.66L843.4 1208.62L845.4 1208.58L847.4 1208.54L849.4 1208.49L851.4 1208.44L853.4 1208.39L855.4 1208.34L857.4 1208.28L859.4 1208.22L861.4 1208.15L863.4 1208.09L865.4 1208.01L867.4 1207.94L869.4 1207.86L871.4 1207.78L873.4 1207.69L875.4 1207.6L877.4 1207.58L879.4 1207.58L881.4 1207.59L883.4 1207.59L885.4 1207.59L887.4 1207.6L889.4 1207.6L890.7 1207.6" stroke="#0000ff"/>
<path d="M91.4 1580.2L93.4 1581.37L95.4 1581.93L97.4 1582.41L99.4 1582.83L101.4 1583.17L103.4 1583.44L105.4 1583.64L107.4 1583.78L109.4 1583.85L111.4 1583.86L113.4 1583.81L115.4 1583.7L117.4 1583.53L119.4 1583.31L121.4 1583.03L123.4 1582.7L125.4 1582.32L127.4 1581.88L129.4 1581.41L131.4 1580.89L133.4 1580.33L135.4 1579.73L137.4 1579.09L139.4 1578.42L141.4 1577.72L143.4 1576.99L145.4 1576.23L147.4 1575.45L149.4 1574.63L151.4 1573.78L153.4 1572.91L155.4 1572L157.4 1571.06L159.4 1570.08L161.4 1569.08L163.4 1568.03L165.4 1566.96L167.4 1565.85L169.4 1564.7L171.4 1563.51L173.4 1562.28L175.4 1561L177.4 1559.69L179.4 1558.33L181.4 1556.94L183.4 1555.49L185.4 1554.01L187.4 1552.48L189.4 1550.9L191.4 1549.28L193.4 1547.62L195.4 1545.91L197.4 1544.17L198.9 1542.83L200.4 1541.46L201.9 1540.07L203.4 1538.66L204.9 1537.23L206.4 1535.77L207.9 1534.29L209.4 1532.78L210.9 1531.25L212.4 1529.7L213.9 1528.12L215.4 1526.53L216.9 1524.9L218.4 1523.26L219.9 1521.59L221.4 1519.89L222.9 1518.18L224.4 1516.43L225.9 1514.67L227.4 1512.88L228.9 1511.06L230.4 1509.23L231.9 1507.37L233.4 1505.49L234.9 1503.59L236.4 1501.67L237.9 1499.72L239.4 1497.75L240.9 1495.75L242.4 1493.74L243.9 1491.7L245.4 1489.64L246.9 1487.56L248.4 1485.46L249.9 1483.34L251.4 1481.19L252.9 1479.04L254.4 1476.86L255.9 1474.66L257.4 1472.45L258.9 1470.22L260.4 1467.98L261.9 1465.73L263.4 1463.46L264.9 1461.18L266.4 1458.88L267.9 1456.58L269.4 1454.27L270.9 1451.95L272.4 1449.63L273.9 1447.29L275.4 1444.96L276.9 1442.62L278.4 1440.28L279.9 1437.93L281.4 1435.59L282.9 1433.24L284.4 1430.89L285.9 1428.54L287.4 1426.19L288.9 1423.84L290.4 1421.49L291.9 1419.14L293.4 1416.79L294.9 1414.44L296.4 1412.09L297.9 1409.74L299.4 1407.4L300.9 1405.04L302.4 1402.67L303.9 1400.3L305.4 1397.94L306.9 1395.58L308.4 1393.23L309.9 1390.88L311.4 1388.54L312.9 1386.21L314.4 1383.88L315.9 1381.56L317.4 1379.25L318.9 1376.94L320.4 1374.65L321.9 1372.37L323.4 1370.1L324.9 1367.84L326.4 1365.59L327.9 1363.36L329.4 1361.14L330.9 1358.93L332.4 1356.74L333.9 1354.55L335.4 1352.39L336.9 1350.24L338.4 1348.1L339.9 1345.98L341.4 1343.88L342.9 1341.79L344.4 1339.72L345.9 1337.67L347.4 1335.63L348.9 1333.61L350.4 1331.61L351.9 1329.63L353.4 1327.67L354.9 1325.72L356.4 1323.79L357.9 1321.88L359.4 1319.99L360.9 1318.15L362.4 1316.33L363.9 1314.53L365.4 1312.75L366.9 1310.99L368.4 1309.24L369.9 1307.52L371.4 1305.81L372.9 1304.13L374.4 1302.46L375.9 1300.81L377.4 1299.18L378.9 1297.56L380.4 1295.97L381.9 1294.4L383.4 1292.84L384.9 1291.3L386.4 1289.78L387.9 1288.28L389.4 1286.8L390.9 1285.34L392.4 1283.89L393.9 1282.47L395.4 1281.06L396.9 1279.67L398.4 1278.3L399.9 1276.95L401.4 1275.61L403.4 1273.86L405.4 1272.14L407.4 1270.45L409.4 1268.79L411.4 1267.16L413.4 1265.56L415.4 1264L417.4 1262.46L419.4 1260.95L421.4 1259.47L423.4 1258.02L425.4 1256.59L427.4 1255.2L429.4 1253.83L431.4 1252.48L433.4 1251.17L435.4 1249.88L437.4 1248.61L439.4 1247.38L441.4 1246.16L443.4 1244.98L445.4 1243.81L447.4 1242.68L449.4 1241.56L451.4 1240.49L453.4 1239.44L455.4 1238.42L457.4 1237.42L459.4 1236.45L461.4 1235.49L463.4 1234.56L465.4 1233.66L467.4 1232.78L469.4 1231.91L471.4 1231.08L473.4 1230.26L475.4 1229.47L477.4 1228.7L479.4 1227.95L481.4 1227.22L483.4 1226.52L485.4 1225.84L487.4 1225.18L489.4 1224.54L491.4 1223.92L493.4 1223.33L495.4 1222.75L497.4 1222.19L499.4 1221.65L501.4 1221.13L503.4 1220.62L505.4 1220.13L507.4 1219.66L509.4 1219.21L511.4 1218.76L513.4 1218.34L515.4 1217.93L517.4 1217.53L519.4 1217.15L521.4 1216.78L523.4 1216.42L525.4 1216.07L527.4 1215.74L529.4 1215.42L531.4 1215.1L533.4 1214.8L535.4 1214.51L537.4 1214.23L539.4 1213.96L541.4 1213.69L543.4 1213.44L545.4 1213.19L547.4 1212.96L549.4 1212.73L551.4 1212.5L553.4 1212.29L555.4 1212.08L557.4 1211.87L559.4 1211.68L561.4 1211.48L563.4 1211.3L565.4 1211.11L567.4 1210.94L569.4 1210.76L571.4 1210.59L573.4 1210.43L575.4 1210.27L577.4 1210.12L579.4 1209.97L581.4 1209.82L583.4 1209.68L585.4 1209.55L587.4 1209.41L589.4 1209.29L591.4 1209.16L593.4 1209.04L595.4 1208.93L597.4 1208.82L599.4 1208.71L601.4 1208.61L603.4 1208.51L605.4 1208.41L607.4 1208.32L609.4 1208.24L611.4 1208.15L613.4 1208.08L615.4 1208L617.4 1207.93L619.4 1207.86L621.4 1207.79L623.4 1207.73L625.4 1207.67L627.4 1207.62L629.4 1207.56L631.4 1207.51L633.4 1207.47L635.4 1207.42L637.4 1207.38L639.4 1207.35L641.4 1207.31L643.4 1207.28L645.4 1207.25L647.4 1207.22L649.4 1207.2L651.4 1207.18L653.4 1207.16L655.4 1207.14L657.4 1207.13L659.4 1207.12L661.4 1207.11L663.4 1207.1L665.4 1207.1L667.4 1207.09L669.4 1207.09L671.4 1207.09L673.4 1207.1L675.4 1207.1L677.4 1207.11L679.4 1207.12L681.4 1207.13L683.4 1207.14L685.4 1207.15L687.4 1207.17L689.4 1207.19L691.4 1207.2L693.4 1207.22L695.4 1207.24L697.4 1207.27L699.4 1207.29L701.4 1207.31L703.4 1207.34L705.4 1207.37L707.4 1207.4L709.4 1207.42L711.4 1207.45L713.4 1207.49L715.4 1207.52L717.4 1207.55L719.4 1207.58L721.4 1207.62L723.4 1207.65L725.4 1207.69L727.4 1207.72L729.4 1207.76L731.4 1207.79L733.4 1207.83L735.4 1207.87L737.4 1207.9L739.4 1207.94L741.4 1207.98L743.4 1208.02L745.4 1208.05L747.4 1208.09L749.4 1208.13L751.4 1208.17L753.4 1208.2L755.4 1208.24L757.4 1208.28L759.4 1208.31L761.4 1208.35L763.4 1208.38L765.4 1208.42L767.4 1208.45L769.4 1208.49L771.4 1208.52L773.4 1208.55L775.4 1208.58L777.4 1208.61L779.4 1208.64L781.4 1208.67L783.4 1208.7L785.4 1208.72L787.4 1208.75L789.4 1208.77L791.4 1208.8L793.4 1208.82L795.4 1208.84L797.4 1208.86L799.4 1208.87L801.4 1208.89L803.4 1208.9L805.4 1208.92L807.4 1208.93L809.4 1208.94L811.4 1208.94L813.4 1208.95L815.4 1208.95L817.4 1208.96L819.4 1208.96L821.4 1208.95L823.4 1208.95L825.4 1208.94L827.4 1208.93L829.4 1208.92L831.4 1208.91L833.4 1208.89L835.4 1208.88L837.4 1208.86L839.4 1208.83L841.4 1208.81L843.4 1208.78L845.4 1208.75L847.4 1208.71L849.4 1208.68L851.4 1208.64L853.4 1208.6L855.4 1208.55L857.4 1208.5L859.4 1208.45L861.4 1208.4L863.4 1208.34L865.4 1208.28L867.4 1208.21L869.4 1208.15L871.4 1208.08L873.4 1208L875.4 1207.92L877.4 1207.84L879.4 1207.76L881.4 1207.67L883.4 1207.59L885.4 1207.6L887.4 1207.6L889.4 1207.6L890.7 1207.6" stroke="#ff0000"/>
<path d="M91.4 1580.2L93.32 1581.34L95.39 1581.92L97.46 1582.42L99.52 1582.84L101.57 1583.18L103.61 1583.46L105.65 1583.66L107.68 1583.79L109.7 1583.86L111.71 1583.86L113.71 1583.81L116.2 1583.66L118.68 1583.42L121.14 1583.1L123.59 1582.71L126.03 1582.25L128.45 1581.72L130.86 1581.13L133.26 1580.48L135.64 1579.79L138 1579.05L140.36 1578.27L142.7 1577.45L145.02 1576.6L147.33 1575.72L149.63 1574.81L151.91 1573.87L154.17 1572.89L156.42 1571.88L158.66 1570.84L160.88 1569.77L163.08 1568.66L165.27 1567.52L167.45 1566.35L169.6 1565.15L171.75 1563.91L173.87 1562.65L175.99 1561.35L178.08 1560.02L180.16 1558.65L182.22 1557.26L184.27 1555.83L185.89 1554.66L187.51 1553.47L189.11 1552.27L190.7 1551.04L192.29 1549.8L193.86 1548.54L195.42 1547.26L196.97 1545.97L198.51 1544.66L200.03 1543.34L201.55 1542L203.06 1540.66L204.55 1539.29L206.03 1537.92L207.51 1536.53L208.97 1535.14L210.41 1533.73L211.85 1532.32L213.28 1530.89L214.69 1529.46L216.1 1528.02L217.49 1526.57L218.87 1525.12L220.24 1523.65L221.61 1522.18L222.96 1520.7L224.3 1519.21L225.63 1517.72L226.95 1516.21L228.27 1514.71L229.89 1512.81L231.51 1510.9L233.11 1508.99L234.7 1507.06L236.27 1505.12L237.84 1503.18L239.39 1501.23L240.92 1499.26L242.45 1497.29L243.97 1495.31L245.48 1493.33L246.97 1491.33L248.46 1489.33L249.93 1487.32L251.4 1485.31L252.86 1483.29L254.31 1481.26L255.75 1479.23L257.19 1477.19L258.62 1475.15L260.04 1473.1L261.45 1471.05L262.86 1469L264.26 1466.94L265.66 1464.87L267.05 1462.81L268.44 1460.74L269.82 1458.67L271.2 1456.59L272.58 1454.52L273.95 1452.44L275.32 1450.36L276.69 1448.28L278.06 1446.2L279.42 1444.12L280.78 1442.04L282.15 1439.96L283.51 1437.88L284.87 1435.8L286.22 1433.72L287.58 1431.64L288.94 1429.55L290.29 1427.47L291.65 1425.39L293.01 1423.31L294.36 1421.23L295.71 1419.15L297.07 1417.08L298.42 1415L299.78 1412.92L301.13 1410.85L302.49 1408.77L303.84 1406.7L305.2 1404.62L306.56 1402.55L307.92 1400.48L309.27 1398.41L310.63 1396.34L311.99 1394.27L313.36 1392.21L314.72 1390.14L316.09 1388.08L317.46 1386.02L318.83 1383.96L320.2 1381.9L321.58 1379.84L322.96 1377.79L324.35 1375.73L325.74 1373.68L327.13 1371.64L328.53 1369.59L329.93 1367.54L331.34 1365.5L332.76 1363.46L334.18 1361.43L335.61 1359.39L337.04 1357.36L338.48 1355.33L339.93 1353.3L341.38 1351.28L342.84 1349.26L344.31 1347.24L345.79 1345.23L347.27 1343.22L348.76 1341.21L349.96 1339.61L351.17 1338.01L352.38 1336.42L353.6 1334.83L354.82 1333.24L356.05 1331.66L357.28 1330.08L358.52 1328.5L359.76 1326.93L361.01 1325.37L362.27 1323.8L363.53 1322.25L364.8 1320.7L366.08 1319.15L367.36 1317.61L368.65 1316.07L369.95 1314.54L371.25 1313.01L372.56 1311.49L373.87 1309.98L375.19 1308.47L376.52 1306.97L377.86 1305.48L379.2 1303.99L380.55 1302.51L381.91 1301.04L383.28 1299.57L384.65 1298.11L386.03 1296.66L387.42 1295.21L388.82 1293.78L390.22 1292.35L391.63 1290.93L393.05 1289.51L394.48 1288.11L395.92 1286.72L397.36 1285.33L398.82 1283.95L400.28 1282.58L401.75 1281.22L403.22 1279.87L404.71 1278.53L406.21 1277.2L407.71 1275.88L409.23 1274.56L410.75 1273.26L412.28 1271.97L413.82 1270.69L415.37 1269.42L416.93 1268.16L418.5 1266.91L420.08 1265.68L421.66 1264.45L423.26 1263.23L424.87 1262.03L426.48 1260.84L428.1 1259.66L429.73 1258.49L431.37 1257.34L433.02 1256.19L434.68 1255.06L436.34 1253.94L438.02 1252.84L439.7 1251.74L441.39 1250.67L443.08 1249.6L444.79 1248.55L446.5 1247.51L448.22 1246.48L449.95 1245.47L451.69 1244.47L453.43 1243.49L455.18 1242.52L456.94 1241.57L459.15 1240.39L461.37 1239.25L463.6 1238.12L465.84 1237.02L468.09 1235.94L470.35 1234.89L472.62 1233.86L474.9 1232.86L477.2 1231.88L479.5 1230.93L481.81 1230L484.13 1229.1L486.46 1228.23L488.8 1227.38L491.14 1226.56L493.5 1225.77L495.87 1225.01L498.24 1224.27L500.62 1223.56L503.01 1222.88L505.4 1222.22L507.81 1221.58L510.22 1220.97L512.64 1220.38L515.06 1219.81L517.49 1219.26L519.92 1218.74L522.36 1218.24L524.81 1217.75L527.26 1217.29L529.72 1216.84L532.18 1216.41L534.64 1216L537.11 1215.6L539.09 1215.3L541.07 1215L543.05 1214.72L545.03 1214.44L547.02 1214.18L549 1213.92L550.99 1213.67L552.98 1213.43L554.97 1213.19L556.96 1212.96L558.96 1212.74L560.95 1212.53L562.94 1212.32L564.94 1212.12L566.94 1211.92L568.93 1211.73L570.93 1211.55L572.92 1211.37L574.92 1211.19L576.91 1211.02L578.91 1210.85L580.91 1210.69L582.9 1210.53L584.9 1210.38L586.9 1210.23L588.89 1210.09L590.89 1209.95L592.89 1209.81L594.88 1209.68L596.88 1209.56L598.88 1209.43L600.87 1209.31L602.87 1209.2L604.87 1209.09L606.87 1208.98L608.86 1208.88L611.36 1208.76L613.86 1208.64L616.35 1208.53L618.85 1208.42L621.35 1208.32L623.85 1208.23L626.34 1208.14L628.84 1208.06L631.34 1207.98L633.84 1207.9L636.33 1207.84L638.83 1207.77L641.33 1207.71L643.83 1207.66L646.33 1207.61L648.82 1207.56L651.32 1207.52L653.82 1207.48L656.32 1207.45L658.82 1207.42L661.32 1207.4L663.82 1207.37L666.31 1207.36L668.81 1207.34L671.31 1207.33L673.81 1207.32L676.31 1207.32L678.81 1207.32L681.31 1207.32L683.81 1207.33L686.31 1207.33L688.8 1207.34L691.3 1207.36L693.8 1207.37L696.3 1207.39L698.8 1207.41L701.3 1207.43L703.8 1207.46L706.3 1207.49L708.8 1207.51L711.3 1207.54L713.8 1207.58L716.3 1207.61L718.8 1207.65L721.3 1207.68L723.8 1207.72L726.3 1207.76L728.8 1207.8L731.3 1207.84L733.8 1207.88L736.29 1207.92L738.79 1207.96L740.79 1208L742.79 1208.03L744.79 1208.07L746.79 1208.1L748.79 1208.14L750.79 1208.18L752.79 1208.21L755.29 1208.25L757.79 1208.3L760.29 1208.34L762.79 1208.39L765.29 1208.43L767.79 1208.47L770.29 1208.51L772.79 1208.55L775.29 1208.59L777.79 1208.63L780.29 1208.67L782.79 1208.71L785.29 1208.74L787.78 1208.77L790.28 1208.81L792.78 1208.84L795.28 1208.86L797.78 1208.89L800.28 1208.92L802.78 1208.94L805.28 1208.96L807.78 1208.98L810.28 1208.99L812.77 1209.01L815.27 1209.02L817.77 1209.02L820.27 1209.03L822.77 1209.03L825.27 1209.03L827.77 1209.03L830.26 1209.02L832.76 1209.01L835.26 1208.99L837.76 1208.98L840.26 1208.95L842.75 1208.93L845.25 1208.9L847.75 1208.87L850.25 1208.83L852.75 1208.79L855.24 1208.74L857.74 1208.69L860.24 1208.64L862.73 1208.58L865.23 1208.51L867.73 1208.45L870.22 1208.37L872.72 1208.29L875.22 1208.21L877.71 1208.12L880.21 1208.03L882.71 1207.93L885.2 1207.82L887.7 1207.71L890.2 1207.59L890.7 1207.6" stroke="#00ff00"/>
</g>
<g font-family="'Liberation Sans', Arial, Helvetica, sans-serif" font-size="18" text-anchor="middle"><text x="91.4" y="1626.6">0</text><text x="171.33" y="1626.6">20</text><text x="251.26" y="1626.6">40</text><text x="331.19" y="1626.6">60</text><text x="411.12" y="1626.6">80</text><text x="491.05" y="1626.6">100</text><text x="570.98" y="1626.6">120</text><text x="650.91" y="1626.6">140</text><text x="730.84" y="1626.6">160</text><text x="810.77" y="1626.6">180</text><text x="890.7" y="1626.6">200</text></g>
<g font-family="'Liberation Sans', Arial, Helvetica, sans-serif" font-size="18" text-anchor="end"><text x="88.8" y="1613">0</text><text x="88.8" y="1479.53">5000</text><text x="88.8" y="1346.07">10000</text><text x="88.8" y="1212.6">15000</text></g>
<text x="491.05" y="1648.5" font-family="'Liberation Sans', Arial, Helvetica, sans-serif" font-size="24" font-weight="bold" text-anchor="middle">t (days)</text>
<text transform="translate(17.6 1406.5) rotate(-90)" font-family="'Liberation Sans', Arial, Helvetica, sans-serif" font-size="24" font-weight="bold" text-anchor="middle">I<tspan font-size="18" dy="12">v1</tspan></text>
<rect x="821.4" y="1211" width="63.6" height="96.6" fill="#fff" stroke="#000" stroke-width="2"/>
<path d="M826.7 1227.9H857.4" stroke="#0000ff" stroke-width="3"/><text x="860" y="1231.3" font-family="'Liberation Serif', 'Times New Roman', serif" font-size="19" font-weight="bold">&#934;</text><text x="874.3" y="1240.3" font-family="'Liberation Sans', Arial, Helvetica, sans-serif" font-size="15">1</text><path d="M826.7 1259.2H857.4" stroke="#ff0000" stroke-width="3"/><text x="860" y="1262.6" font-family="'Liberation Serif', 'Times New Roman', serif" font-size="19" font-weight="bold">&#934;</text><text x="874.3" y="1271.6" font-family="'Liberation Sans', Arial, Helvetica, sans-serif" font-size="15">2</text><path d="M826.7 1290.4H857.4" stroke="#00ff00" stroke-width="3"/><text x="860" y="1293.8" font-family="'Liberation Serif', 'Times New Roman', serif" font-size="19" font-weight="bold">&#934;</text><text x="874.3" y="1302.8" font-family="'Liberation Sans', Arial, Helvetica, sans-serif" font-size="15">3</text>
<text font-family="'Liberation Serif', 'Times New Roman', serif"><tspan x="399.4" y="1704.2" font-size="36">(</tspan><tspan x="410.5" y="1704.2" font-size="34">e</tspan><tspan x="426.6" y="1704.2" font-size="36">)</tspan><tspan x="452.1" y="1704.2" font-size="34" font-style="italic">I</tspan><tspan x="465.9" y="1709" font-size="24" font-style="italic">v</tspan><tspan x="483" y="1709" font-size="24">1</tspan><tspan x="500" y="1704.2" font-size="36">(</tspan><tspan x="511.6" y="1704.2" font-size="34" font-style="italic">t</tspan><tspan x="524" y="1704.2" font-size="36">)</tspan></text>
</g>
<g id="panel-f">
<path d="M1215.41 1606.4V1598.4M1215.41 1206V1214M1295.32 1606.4V1598.4M1295.32 1206V1214M1375.23 1606.4V1598.4M1375.23 1206V1214M1455.14 1606.4V1598.4M1455.14 1206V1214M1535.05 1606.4V1598.4M1535.05 1206V1214M1614.96 1606.4V1598.4M1614.96 1206V1214M1694.87 1606.4V1598.4M1694.87 1206V1214M1774.78 1606.4V1598.4M1774.78 1206V1214M1854.69 1606.4V1598.4M1854.69 1206V1214M1135.5 1526.32H1143.5M1934.6 1526.32H1926.6M1135.5 1446.24H1143.5M1934.6 1446.24H1926.6M1135.5 1366.16H1143.5M1934.6 1366.16H1926.6M1135.5 1286.08H1143.5M1934.6 1286.08H1926.6" stroke="#000" stroke-width="2.0" fill="none"/>
<rect x="1135.5" y="1206" width="799.1" height="400.4" fill="none" stroke="#000" stroke-width="2.0"/>
<g fill="none" stroke-width="3.2" stroke-linejoin="round" stroke-linecap="butt">
<path d="M1136.2 1590.52L1138.2 1591.53L1140.2 1591.67L1142.2 1591.77L1144.2 1591.8L1146.2 1591.79L1148.2 1591.73L1150.2 1591.61L1152.2 1591.45L1154.2 1591.24L1156.2 1590.99L1158.2 1590.69L1160.2 1590.35L1162.2 1589.96L1164.2 1589.54L1166.2 1589.07L1168.2 1588.57L1170.2 1588.02L1172.2 1587.44L1174.2 1586.82L1176.2 1586.17L1178.2 1585.49L1180.2 1584.77L1182.2 1584.03L1184.2 1583.26L1186.2 1582.46L1188.2 1581.63L1190.2 1580.79L1192.2 1579.92L1194.2 1579.03L1196.2 1578.13L1198.2 1577.21L1200.2 1576.27L1202.2 1575.32L1204.2 1574.36L1206.2 1573.37L1208.2 1572.38L1210.2 1571.37L1212.2 1570.34L1214.2 1569.3L1216.2 1568.25L1218.2 1567.18L1220.2 1566.09L1222.2 1564.99L1224.2 1563.87L1226.2 1562.73L1228.2 1561.59L1230.2 1560.42L1232.2 1559.18L1234.2 1557.93L1236.2 1556.66L1238.2 1555.37L1240.2 1554.06L1242.2 1552.74L1244.2 1551.39L1246.2 1550.03L1248.2 1548.65L1250.2 1547.25L1252.2 1545.83L1254.2 1544.4L1256.2 1542.94L1258.2 1541.47L1260.2 1539.97L1262.2 1538.46L1264.2 1536.92L1266.2 1535.37L1268.2 1533.79L1270.2 1532.19L1272.2 1530.58L1274.2 1528.94L1276.2 1527.28L1278.2 1525.6L1280.2 1523.9L1282.2 1522.18L1284.2 1520.44L1286.2 1518.67L1287.7 1517.34L1289.2 1515.99L1290.7 1514.63L1292.2 1513.26L1293.7 1511.88L1295.2 1510.48L1296.7 1509.08L1298.2 1507.66L1299.7 1506.23L1301.2 1504.8L1302.7 1503.35L1304.2 1501.9L1305.7 1500.43L1307.2 1498.95L1308.7 1497.46L1310.2 1495.96L1311.7 1494.45L1313.2 1492.93L1314.7 1491.4L1316.2 1489.86L1317.7 1488.31L1319.2 1486.75L1320.7 1485.19L1322.2 1483.61L1323.7 1482.02L1325.2 1480.42L1326.7 1478.82L1328.2 1477.2L1329.7 1475.58L1331.2 1473.95L1332.7 1472.31L1334.2 1470.66L1335.7 1469L1337.2 1467.34L1338.7 1465.67L1340.2 1463.99L1341.7 1462.3L1343.2 1460.61L1344.7 1458.91L1346.2 1457.2L1347.7 1455.49L1349.2 1453.78L1350.7 1452.06L1352.2 1450.33L1353.7 1448.6L1355.2 1446.87L1356.7 1445.14L1358.2 1443.4L1359.7 1441.67L1361.2 1439.93L1362.7 1438.19L1364.2 1436.46L1365.7 1434.73L1367.2 1433L1368.7 1431.27L1370.2 1429.54L1371.7 1427.82L1373.2 1426.1L1374.7 1424.39L1376.2 1422.69L1377.7 1420.99L1379.2 1419.3L1380.7 1417.64L1382.2 1416.03L1383.7 1414.42L1385.2 1412.82L1386.7 1411.23L1388.2 1409.65L1389.7 1408.08L1391.2 1406.52L1392.7 1404.97L1394.2 1403.43L1395.7 1401.9L1397.2 1400.38L1398.7 1398.88L1400.2 1397.38L1401.7 1395.9L1403.2 1394.43L1404.7 1392.98L1406.2 1391.53L1407.7 1390.1L1409.2 1388.69L1410.7 1387.29L1412.2 1385.9L1413.7 1384.52L1415.2 1383.16L1416.7 1381.82L1418.2 1380.49L1420.2 1378.74L1422.2 1377.01L1424.2 1375.31L1426.2 1373.63L1428.2 1371.98L1430.2 1370.36L1432.2 1368.75L1434.2 1367.17L1436.2 1365.61L1438.2 1364.08L1440.2 1362.57L1442.2 1361.08L1444.2 1359.61L1446.2 1358.16L1448.2 1356.74L1450.2 1355.34L1452.2 1353.98L1454.2 1352.64L1456.2 1351.32L1458.2 1350.03L1460.2 1348.75L1462.2 1347.48L1464.2 1346.24L1466.2 1345.02L1468.2 1343.81L1470.2 1342.63L1472.2 1341.46L1474.2 1340.31L1476.2 1339.17L1478.2 1338.06L1480.2 1336.96L1482.2 1335.88L1484.2 1334.82L1486.2 1333.78L1488.2 1332.75L1490.2 1331.74L1492.2 1330.75L1494.2 1329.78L1496.2 1328.82L1498.2 1327.88L1500.2 1326.96L1502.2 1326.05L1504.2 1325.16L1506.2 1324.28L1508.2 1323.42L1510.2 1322.57L1512.2 1321.74L1514.2 1320.92L1516.2 1320.12L1518.2 1319.33L1520.2 1318.55L1522.2 1317.79L1524.2 1317.04L1526.2 1316.3L1528.2 1315.57L1530.2 1314.86L1532.2 1314.16L1534.2 1313.47L1536.2 1312.79L1538.2 1312.12L1540.2 1311.47L1542.2 1310.82L1544.2 1310.19L1546.2 1309.56L1548.2 1308.95L1550.2 1308.35L1552.2 1307.77L1554.2 1307.21L1556.2 1306.65L1558.2 1306.1L1560.2 1305.56L1562.2 1305.03L1564.2 1304.51L1566.2 1304L1568.2 1303.49L1570.2 1302.99L1572.2 1302.51L1574.2 1302.02L1576.2 1301.55L1578.2 1301.08L1580.2 1300.63L1582.2 1300.17L1584.2 1299.73L1586.2 1299.29L1588.2 1298.86L1590.2 1298.44L1592.2 1298.03L1594.2 1297.62L1596.2 1297.22L1598.2 1296.82L1600.2 1296.43L1602.2 1296.05L1604.2 1295.67L1606.2 1295.31L1608.2 1294.94L1610.2 1294.59L1612.2 1294.24L1614.2 1293.89L1616.2 1293.55L1618.2 1293.22L1620.2 1292.9L1622.2 1292.58L1624.2 1292.26L1626.2 1291.95L1628.2 1291.65L1630.2 1291.35L1632.2 1291.06L1634.2 1290.77L1636.2 1290.49L1638.2 1290.22L1640.2 1289.95L1642.2 1289.68L1644.2 1289.42L1646.2 1289.16L1648.2 1288.91L1650.2 1288.67L1652.2 1288.43L1654.2 1288.19L1656.2 1287.96L1658.2 1287.73L1660.2 1287.51L1662.2 1287.29L1664.2 1287.08L1666.2 1286.87L1668.2 1286.67L1670.2 1286.46L1672.2 1286.27L1674.2 1286.08L1676.2 1285.89L1678.2 1285.7L1680.2 1285.52L1682.2 1285.35L1684.2 1285.18L1686.2 1285.01L1688.2 1284.84L1690.2 1284.68L1692.2 1284.52L1694.2 1284.37L1696.2 1284.22L1698.2 1284.07L1700.2 1283.93L1702.2 1283.8L1704.2 1283.67L1706.2 1283.54L1708.2 1283.42L1710.2 1283.3L1712.2 1283.18L1714.2 1283.07L1716.2 1282.96L1718.2 1282.85L1720.2 1282.75L1722.2 1282.64L1724.2 1282.54L1726.2 1282.45L1728.2 1282.35L1730.2 1282.26L1732.2 1282.17L1734.2 1282.09L1736.2 1282L1738.2 1281.92L1740.2 1281.84L1742.2 1281.76L1744.2 1281.69L1746.2 1281.61L1748.2 1281.54L1750.2 1281.47L1752.2 1281.41L1754.2 1281.34L1756.2 1281.28L1758.2 1281.22L1760.2 1281.16L1762.2 1281.1L1764.2 1281.04L1766.2 1280.99L1768.2 1280.93L1770.2 1280.88L1772.2 1280.83L1774.2 1280.78L1776.2 1280.73L1778.2 1280.69L1780.2 1280.64L1782.2 1280.6L1784.2 1280.55L1786.2 1280.51L1788.2 1280.47L1790.2 1280.43L1792.2 1280.39L1794.2 1280.35L1796.2 1280.32L1798.2 1280.28L1800.2 1280.24L1802.2 1280.21L1804.2 1280.17L1806.2 1280.14L1808.2 1280.11L1810.2 1280.07L1812.2 1280.04L1814.2 1280.01L1816.2 1279.97L1818.2 1279.94L1820.2 1279.91L1822.2 1279.88L1824.2 1279.85L1826.2 1279.81L1828.2 1279.78L1830.2 1279.75L1832.2 1279.72L1834.2 1279.69L1836.2 1279.65L1838.2 1279.62L1840.2 1279.59L1842.2 1279.55L1844.2 1279.52L1846.2 1279.48L1848.2 1279.45L1850.2 1279.41L1852.2 1279.38L1854.2 1279.34L1856.2 1279.3L1858.2 1279.26L1860.2 1279.22L1862.2 1279.18L1864.2 1279.14L1866.2 1279.09L1868.2 1279.05L1870.2 1279L1872.2 1278.96L1874.2 1278.91L1876.2 1278.86L1878.2 1278.81L1880.2 1278.75L1882.2 1278.7L1884.2 1278.64L1886.2 1278.59L1888.2 1278.53L1890.2 1278.46L1892.2 1278.4L1894.2 1278.34L1896.2 1278.27L1898.2 1278.2L1900.2 1278.13L1902.2 1278.05L1904.2 1277.98L1906.2 1277.9L1908.2 1277.82L1910.2 1277.74L1912.2 1277.65L1914.2 1277.56L1916.2 1277.47L1918.2 1277.38L1920.2 1277.28L1922.2 1277.24L1924.2 1277.27L1926.2 1277.27L1928.2 1277.28L1930.2 1277.29L1932.2 1277.29L1934.6 1277.3" stroke="#0000ff"/>
<path d="M1136.2 1590.51L1138.2 1591.53L1140.2 1591.67L1142.2 1591.76L1144.2 1591.8L1146.2 1591.79L1148.2 1591.73L1150.2 1591.62L1152.2 1591.46L1154.2 1591.26L1156.2 1591.01L1158.2 1590.72L1160.2 1590.38L1162.2 1590.01L1164.2 1589.59L1166.2 1589.13L1168.2 1588.64L1170.2 1588.11L1172.2 1587.54L1174.2 1586.93L1176.2 1586.29L1178.2 1585.62L1180.2 1584.92L1182.2 1584.19L1184.2 1583.43L1186.2 1582.65L1188.2 1581.84L1190.2 1581.01L1192.2 1580.16L1194.2 1579.29L1196.2 1578.4L1198.2 1577.49L1200.2 1576.57L1202.2 1575.64L1204.2 1574.69L1206.2 1573.72L1208.2 1572.74L1210.2 1571.75L1212.2 1570.74L1214.2 1569.72L1216.2 1568.68L1218.2 1567.63L1220.2 1566.56L1222.2 1565.48L1224.2 1564.38L1226.2 1563.27L1228.2 1562.14L1230.2 1560.99L1232.2 1559.8L1234.2 1558.6L1236.2 1557.38L1238.2 1556.15L1240.2 1554.89L1242.2 1553.63L1244.2 1552.34L1246.2 1551.04L1248.2 1549.72L1250.2 1548.38L1252.2 1547.02L1254.2 1545.65L1256.2 1544.26L1258.2 1542.85L1260.2 1541.42L1262.2 1539.98L1264.2 1538.51L1266.2 1537.03L1268.2 1535.53L1270.2 1534.01L1272.2 1532.47L1274.2 1530.91L1276.2 1529.33L1278.2 1527.73L1280.2 1526.11L1282.2 1524.47L1284.2 1522.82L1286.2 1521.14L1288.2 1519.44L1290.2 1517.73L1292.2 1515.99L1294.2 1514.24L1295.7 1512.91L1297.2 1511.57L1298.7 1510.22L1300.2 1508.87L1301.7 1507.51L1303.2 1506.14L1304.7 1504.77L1306.2 1503.38L1307.7 1501.98L1309.2 1500.58L1310.7 1499.16L1312.2 1497.74L1313.7 1496.3L1315.2 1494.85L1316.7 1493.4L1318.2 1491.94L1319.7 1490.46L1321.2 1488.98L1322.7 1487.49L1324.2 1485.99L1325.7 1484.48L1327.2 1482.96L1328.7 1481.43L1330.2 1479.9L1331.7 1478.36L1333.2 1476.81L1334.7 1475.25L1336.2 1473.68L1337.7 1472.11L1339.2 1470.52L1340.7 1468.94L1342.2 1467.34L1343.7 1465.74L1345.2 1464.13L1346.7 1462.51L1348.2 1460.89L1349.7 1459.26L1351.2 1457.63L1352.7 1455.99L1354.2 1454.34L1355.7 1452.69L1357.2 1451.04L1358.7 1449.38L1360.2 1447.72L1361.7 1446.06L1363.2 1444.4L1364.7 1442.73L1366.2 1441.07L1367.7 1439.4L1369.2 1437.74L1370.7 1436.08L1372.2 1434.41L1373.7 1432.76L1375.2 1431.1L1376.7 1429.44L1378.2 1427.79L1379.7 1426.15L1381.2 1424.52L1382.7 1422.9L1384.2 1421.29L1385.7 1419.68L1387.2 1418.08L1388.7 1416.49L1390.2 1414.9L1391.7 1413.32L1393.2 1411.75L1394.7 1410.19L1396.2 1408.64L1397.7 1407.09L1399.2 1405.56L1400.7 1404.04L1402.2 1402.53L1403.7 1401.02L1405.2 1399.53L1406.7 1398.06L1408.2 1396.59L1409.7 1395.14L1411.2 1393.69L1412.7 1392.26L1414.2 1390.85L1415.7 1389.44L1417.2 1388.05L1418.7 1386.68L1420.2 1385.31L1421.7 1383.96L1423.2 1382.63L1425.2 1380.87L1427.2 1379.14L1429.2 1377.43L1431.2 1375.75L1433.2 1374.09L1435.2 1372.45L1437.2 1370.84L1439.2 1369.25L1441.2 1367.69L1443.2 1366.14L1445.2 1364.62L1447.2 1363.12L1449.2 1361.65L1451.2 1360.2L1453.2 1358.77L1455.2 1357.37L1457.2 1355.98L1459.2 1354.62L1461.2 1353.27L1463.2 1351.95L1465.2 1350.65L1467.2 1349.36L1469.2 1348.09L1471.2 1346.85L1473.2 1345.62L1475.2 1344.41L1477.2 1343.22L1479.2 1342.04L1481.2 1340.89L1483.2 1339.75L1485.2 1338.64L1487.2 1337.54L1489.2 1336.46L1491.2 1335.39L1493.2 1334.34L1495.2 1333.32L1497.2 1332.31L1499.2 1331.31L1501.2 1330.34L1503.2 1329.38L1505.2 1328.44L1507.2 1327.51L1509.2 1326.6L1511.2 1325.71L1513.2 1324.83L1515.2 1323.97L1517.2 1323.13L1519.2 1322.29L1521.2 1321.48L1523.2 1320.68L1525.2 1319.89L1527.2 1319.11L1529.2 1318.35L1531.2 1317.6L1533.2 1316.87L1535.2 1316.14L1537.2 1315.43L1539.2 1314.73L1541.2 1314.05L1543.2 1313.37L1545.2 1312.71L1547.2 1312.06L1549.2 1311.42L1551.2 1310.79L1553.2 1310.18L1555.2 1309.58L1557.2 1309L1559.2 1308.42L1561.2 1307.85L1563.2 1307.29L1565.2 1306.74L1567.2 1306.2L1569.2 1305.66L1571.2 1305.14L1573.2 1304.62L1575.2 1304.12L1577.2 1303.62L1579.2 1303.12L1581.2 1302.64L1583.2 1302.17L1585.2 1301.7L1587.2 1301.24L1589.2 1300.78L1591.2 1300.34L1593.2 1299.9L1595.2 1299.47L1597.2 1299.04L1599.2 1298.63L1601.2 1298.22L1603.2 1297.81L1605.2 1297.42L1607.2 1297.03L1609.2 1296.65L1611.2 1296.27L1613.2 1295.9L1615.2 1295.54L1617.2 1295.18L1619.2 1294.83L1621.2 1294.48L1623.2 1294.14L1625.2 1293.81L1627.2 1293.49L1629.2 1293.17L1631.2 1292.85L1633.2 1292.54L1635.2 1292.24L1637.2 1291.94L1639.2 1291.65L1641.2 1291.36L1643.2 1291.08L1645.2 1290.8L1647.2 1290.53L1649.2 1290.27L1651.2 1290.01L1653.2 1289.75L1655.2 1289.5L1657.2 1289.25L1659.2 1289.01L1661.2 1288.78L1663.2 1288.54L1665.2 1288.32L1667.2 1288.1L1669.2 1287.88L1671.2 1287.67L1673.2 1287.46L1675.2 1287.25L1677.2 1287.05L1679.2 1286.86L1681.2 1286.66L1683.2 1286.48L1685.2 1286.29L1687.2 1286.11L1689.2 1285.94L1691.2 1285.77L1693.2 1285.6L1695.2 1285.43L1697.2 1285.27L1699.2 1285.12L1701.2 1284.97L1703.2 1284.82L1705.2 1284.68L1707.2 1284.54L1709.2 1284.4L1711.2 1284.27L1713.2 1284.14L1715.2 1284.01L1717.2 1283.89L1719.2 1283.77L1721.2 1283.65L1723.2 1283.54L1725.2 1283.43L1727.2 1283.32L1729.2 1283.21L1731.2 1283.11L1733.2 1283.01L1735.2 1282.91L1737.2 1282.82L1739.2 1282.72L1741.2 1282.63L1743.2 1282.55L1745.2 1282.46L1747.2 1282.38L1749.2 1282.3L1751.2 1282.22L1753.2 1282.14L1755.2 1282.07L1757.2 1281.99L1759.2 1281.92L1761.2 1281.85L1763.2 1281.79L1765.2 1281.72L1767.2 1281.66L1769.2 1281.6L1771.2 1281.54L1773.2 1281.48L1775.2 1281.42L1777.2 1281.37L1779.2 1281.31L1781.2 1281.26L1783.2 1281.21L1785.2 1281.16L1787.2 1281.11L1789.2 1281.06L1791.2 1281.02L1793.2 1280.97L1795.2 1280.93L1797.2 1280.88L1799.2 1280.84L1801.2 1280.8L1803.2 1280.76L1805.2 1280.72L1807.2 1280.68L1809.2 1280.64L1811.2 1280.6L1813.2 1280.56L1815.2 1280.53L1817.2 1280.49L1819.2 1280.45L1821.2 1280.42L1823.2 1280.38L1825.2 1280.34L1827.2 1280.31L1829.2 1280.27L1831.2 1280.24L1833.2 1280.2L1835.2 1280.17L1837.2 1280.13L1839.2 1280.1L1841.2 1280.06L1843.2 1280.02L1845.2 1279.99L1847.2 1279.95L1849.2 1279.91L1851.2 1279.88L1853.2 1279.84L1855.2 1279.8L1857.2 1279.76L1859.2 1279.72L1861.2 1279.68L1863.2 1279.63L1865.2 1279.59L1867.2 1279.55L1869.2 1279.5L1871.2 1279.46L1873.2 1279.41L1875.2 1279.36L1877.2 1279.31L1879.2 1279.26L1881.2 1279.21L1883.2 1279.16L1885.2 1279.1L1887.2 1279.04L1889.2 1278.99L1891.2 1278.93L1893.2 1278.86L1895.2 1278.8L1897.2 1278.74L1899.2 1278.67L1901.2 1278.6L1903.2 1278.53L1905.2 1278.45L1907.2 1278.38L1909.2 1278.3L1911.2 1278.22L1913.2 1278.14L1915.2 1278.05L1917.2 1277.97L1919.2 1277.88L1921.2 1277.79L1923.2 1277.69L1925.2 1277.59L1927.2 1277.49L1929.2 1277.49L1931.2 1277.5L1933.2 1277.5L1934.6 1277.5" stroke="#ff0000"/>
<path d="M1136.2 1590.5L1138.19 1591.53L1140.68 1591.7L1143.16 1591.79L1145.63 1591.8L1148.1 1591.74L1150.56 1591.6L1153.01 1591.4L1155.45 1591.13L1157.89 1590.79L1160.32 1590.39L1162.74 1589.93L1165.15 1589.42L1167.56 1588.85L1169.96 1588.23L1172.35 1587.56L1174.74 1586.84L1177.11 1586.09L1179.48 1585.29L1181.37 1584.62L1183.26 1583.93L1185.14 1583.22L1187.01 1582.49L1188.88 1581.74L1190.75 1580.98L1192.61 1580.2L1194.46 1579.4L1196.31 1578.59L1198.16 1577.77L1200 1576.94L1201.83 1576.1L1203.66 1575.25L1205.49 1574.39L1207.31 1573.52L1209.12 1572.64L1210.93 1571.75L1212.73 1570.86L1214.53 1569.95L1216.32 1569.04L1218.11 1568.12L1219.89 1567.18L1221.67 1566.24L1223.44 1565.29L1225.2 1564.34L1226.96 1563.37L1228.72 1562.39L1230.47 1561.41L1232.21 1560.42L1233.95 1559.42L1235.68 1558.41L1237.41 1557.39L1239.13 1556.36L1240.85 1555.33L1242.56 1554.29L1244.26 1553.24L1245.96 1552.18L1247.65 1551.12L1249.34 1550.04L1251.44 1548.69L1253.54 1547.32L1255.62 1545.95L1257.69 1544.56L1259.76 1543.15L1261.82 1541.74L1263.86 1540.32L1265.9 1538.88L1267.93 1537.43L1269.95 1535.97L1271.96 1534.5L1273.96 1533.02L1275.95 1531.53L1277.94 1530.03L1279.91 1528.51L1281.87 1526.99L1283.83 1525.46L1285.77 1523.91L1287.71 1522.36L1289.64 1520.79L1291.56 1519.22L1293.47 1517.63L1295.37 1516.04L1297.27 1514.43L1299.15 1512.82L1301.03 1511.2L1302.9 1509.57L1304.77 1507.93L1306.62 1506.28L1308.47 1504.63L1310.32 1502.96L1312.15 1501.29L1313.98 1499.61L1315.8 1497.92L1317.62 1496.23L1319.43 1494.52L1321.23 1492.81L1323.03 1491.1L1324.82 1489.37L1326.61 1487.64L1328.39 1485.9L1330.16 1484.16L1331.94 1482.41L1333.7 1480.65L1335.46 1478.89L1337.22 1477.12L1338.97 1475.35L1340.71 1473.57L1342.46 1471.78L1344.19 1469.99L1345.93 1468.2L1347.66 1466.4L1349.38 1464.59L1351.11 1462.79L1352.83 1460.97L1354.2 1459.52L1355.57 1458.06L1356.94 1456.6L1358.31 1455.14L1359.68 1453.68L1361.04 1452.21L1362.4 1450.74L1363.77 1449.28L1365.13 1447.81L1366.49 1446.33L1367.85 1444.86L1369.21 1443.39L1370.57 1441.92L1371.93 1440.44L1373.3 1438.97L1374.66 1437.5L1376.02 1436.02L1377.38 1434.55L1378.74 1433.08L1380.11 1431.6L1381.48 1430.13L1382.84 1428.66L1384.21 1427.2L1385.58 1425.73L1386.96 1424.27L1388.33 1422.8L1389.71 1421.34L1391.09 1419.88L1392.47 1418.43L1393.86 1416.97L1395.24 1415.52L1396.64 1414.08L1398.03 1412.63L1399.43 1411.19L1400.83 1409.76L1402.24 1408.33L1403.65 1406.9L1405.06 1405.47L1406.48 1404.05L1407.9 1402.64L1409.33 1401.23L1410.76 1399.82L1412.2 1398.42L1413.64 1397.03L1415.09 1395.64L1416.55 1394.26L1418.01 1392.88L1419.47 1391.51L1420.95 1390.15L1422.42 1388.79L1423.91 1387.44L1425.4 1386.09L1426.9 1384.76L1428.4 1383.43L1429.92 1382.11L1431.44 1380.79L1432.96 1379.49L1434.5 1378.19L1436.04 1376.9L1437.59 1375.62L1439.14 1374.34L1440.71 1373.08L1442.28 1371.82L1443.86 1370.57L1445.44 1369.33L1447.03 1368.1L1448.63 1366.88L1450.23 1365.67L1451.84 1364.46L1453.46 1363.27L1455.09 1362.08L1456.72 1360.91L1458.35 1359.74L1460 1358.58L1461.65 1357.43L1463.3 1356.29L1464.96 1355.16L1466.63 1354.04L1468.31 1352.93L1469.99 1351.83L1471.67 1350.74L1473.36 1349.66L1475.06 1348.59L1476.76 1347.53L1478.47 1346.48L1480.19 1345.44L1481.91 1344.41L1483.63 1343.39L1485.36 1342.38L1487.1 1341.39L1488.84 1340.4L1490.59 1339.43L1492.78 1338.22L1494.98 1337.04L1497.18 1335.87L1499.4 1334.72L1501.62 1333.58L1503.85 1332.47L1506.08 1331.37L1508.33 1330.29L1510.58 1329.23L1512.83 1328.19L1515.1 1327.17L1517.37 1326.16L1519.65 1325.17L1521.93 1324.2L1524.22 1323.25L1526.52 1322.31L1528.82 1321.39L1531.13 1320.48L1533.44 1319.6L1535.76 1318.72L1538.09 1317.87L1540.42 1317.02L1542.76 1316.2L1545.1 1315.39L1547.44 1314.59L1549.8 1313.81L1552.15 1313.04L1554.51 1312.29L1556.88 1311.55L1559.25 1310.82L1561.62 1310.11L1564 1309.41L1566.39 1308.72L1568.77 1308.04L1571.16 1307.38L1573.56 1306.73L1575.96 1306.09L1578.36 1305.46L1580.76 1304.85L1583.17 1304.24L1585.58 1303.65L1588 1303.07L1590.41 1302.49L1592.84 1301.93L1595.26 1301.38L1597.69 1300.84L1600.11 1300.31L1602.55 1299.79L1604.98 1299.28L1607.42 1298.77L1609.86 1298.28L1612.3 1297.8L1614.75 1297.33L1617.19 1296.87L1619.65 1296.41L1622.1 1295.97L1624.55 1295.53L1627.01 1295.11L1629.47 1294.69L1631.93 1294.28L1634.4 1293.88L1636.86 1293.49L1639.33 1293.11L1641.8 1292.74L1644.28 1292.37L1646.26 1292.08L1648.24 1291.8L1650.22 1291.53L1652.2 1291.25L1654.19 1290.99L1656.18 1290.73L1658.16 1290.47L1660.15 1290.22L1662.14 1289.97L1664.13 1289.73L1666.12 1289.49L1668.12 1289.26L1670.11 1289.03L1672.1 1288.81L1674.1 1288.59L1676.1 1288.37L1678.09 1288.16L1680.09 1287.96L1682.09 1287.75L1684.09 1287.56L1686.09 1287.36L1688.1 1287.17L1690.1 1286.99L1692.1 1286.81L1694.11 1286.63L1696.11 1286.46L1698.12 1286.29L1700.13 1286.12L1702.13 1285.96L1704.14 1285.8L1706.15 1285.64L1708.16 1285.49L1710.17 1285.34L1712.18 1285.2L1714.19 1285.06L1716.2 1284.92L1718.21 1284.79L1720.23 1284.65L1722.24 1284.53L1724.25 1284.4L1726.27 1284.28L1728.28 1284.16L1730.3 1284.04L1732.31 1283.93L1734.33 1283.82L1736.34 1283.71L1738.36 1283.61L1740.37 1283.5L1742.39 1283.4L1744.41 1283.31L1746.42 1283.21L1748.44 1283.12L1750.46 1283.03L1752.48 1282.94L1754.49 1282.86L1756.51 1282.77L1758.53 1282.69L1760.55 1282.62L1762.57 1282.54L1764.58 1282.46L1766.6 1282.39L1768.62 1282.32L1770.64 1282.25L1772.65 1282.19L1774.67 1282.12L1776.69 1282.06L1778.71 1282L1780.72 1281.93L1782.74 1281.88L1784.76 1281.82L1786.77 1281.76L1788.79 1281.71L1790.81 1281.66L1792.82 1281.6L1794.84 1281.55L1796.85 1281.5L1798.87 1281.45L1800.88 1281.41L1802.9 1281.36L1804.91 1281.31L1806.92 1281.27L1808.93 1281.23L1810.95 1281.18L1812.96 1281.14L1814.97 1281.1L1816.98 1281.06L1818.99 1281.02L1821 1280.98L1823.01 1280.94L1825.02 1280.9L1827.02 1280.86L1829.03 1280.82L1831.04 1280.78L1833.04 1280.74L1835.05 1280.71L1837.05 1280.67L1839.05 1280.63L1841.05 1280.59L1843.06 1280.55L1845.06 1280.52L1847.55 1280.47L1850.05 1280.42L1852.55 1280.37L1855.04 1280.32L1857.54 1280.27L1860.03 1280.22L1862.52 1280.16L1865.01 1280.11L1867.49 1280.06L1869.98 1280L1872.46 1279.94L1874.94 1279.88L1877.42 1279.82L1879.9 1279.76L1882.37 1279.7L1884.85 1279.63L1887.32 1279.56L1889.79 1279.49L1892.26 1279.42L1894.72 1279.35L1897.18 1279.27L1899.64 1279.19L1902.1 1279.11L1904.56 1279.02L1907.01 1278.93L1909.46 1278.84L1911.91 1278.75L1914.35 1278.65L1916.8 1278.55L1919.24 1278.45L1921.68 1278.34L1924.11 1278.23L1926.54 1278.11L1928.97 1277.99L1931.4 1277.87L1933.82 1277.74L1934.6 1277.8" stroke="#00ff00"/>
</g>
<g font-family="'Liberation Sans', Arial, Helvetica, sans-serif" font-size="18" text-anchor="middle"><text x="1135.5" y="1626.6">0</text><text x="1215.41" y="1626.6">20</text><text x="1295.32" y="1626.6">40</text><text x="1375.23" y="1626.6">60</text><text x="1455.14" y="1626.6">80</text><text x="1535.05" y="1626.6">100</text><text x="1614.96" y="1626.6">120</text><text x="1694.87" y="1626.6">140</text><text x="1774.78" y="1626.6">160</text><text x="1854.69" y="1626.6">180</text><text x="1934.6" y="1626.6">200</text></g>
<g font-family="'Liberation Sans', Arial, Helvetica, sans-serif" font-size="18" text-anchor="end"><text x="1132.9" y="1613">0</text><text x="1132.9" y="1532.92">0.5</text><text x="1132.9" y="1452.84">1</text><text x="1132.9" y="1372.76">1.5</text><text x="1132.9" y="1292.68">2</text><text x="1132.9" y="1212.6">2.5</text></g>
<text x="1135.3" y="1201.7" font-family="'Liberation Sans', Arial, Helvetica, sans-serif" font-size="18">x 10<tspan font-size="13" dy="-11.3">4</tspan></text>
<text x="1535.05" y="1648.5" font-family="'Liberation Sans', Arial, Helvetica, sans-serif" font-size="24" font-weight="bold" text-anchor="middle">t (days)</text>
<text transform="translate(1086.6 1406) rotate(-90)" font-family="'Liberation Sans', Arial, Helvetica, sans-serif" font-size="24" font-weight="bold" text-anchor="middle">I<tspan font-size="18" dy="12">v2</tspan></text>
<rect x="1865.5" y="1211" width="64.2" height="96.6" fill="#fff" stroke="#000" stroke-width="2"/>
<path d="M1870.8 1227.9H1901.5" stroke="#0000ff" stroke-width="3"/><text x="1904.1" y="1231.3" font-family="'Liberation Serif', 'Times New Roman', serif" font-size="19" font-weight="bold">&#934;</text><text x="1918.4" y="1240.3" font-family="'Liberation Sans', Arial, Helvetica, sans-serif" font-size="15">1</text><path d="M1870.8 1259.2H1901.5" stroke="#ff0000" stroke-width="3"/><text x="1904.1" y="1262.6" font-family="'Liberation Serif', 'Times New Roman', serif" font-size="19" font-weight="bold">&#934;</text><text x="1918.4" y="1271.6" font-family="'Liberation Sans', Arial, Helvetica, sans-serif" font-size="15">2</text><path d="M1870.8 1290.4H1901.5" stroke="#00ff00" stroke-width="3"/><text x="1904.1" y="1293.8" font-family="'Liberation Serif', 'Times New Roman', serif" font-size="19" font-weight="bold">&#934;</text><text x="1918.4" y="1302.8" font-family="'Liberation Sans', Arial, Helvetica, sans-serif" font-size="15">3</text>
<text font-family="'Liberation Serif', 'Times New Roman', serif"><tspan x="1443.5" y="1704.2" font-size="36">(</tspan><tspan x="1454.6" y="1704.2" font-size="34">f</tspan><tspan x="1470.7" y="1704.2" font-size="36">)</tspan><tspan x="1496.2" y="1704.2" font-size="34" font-style="italic">I</tspan><tspan x="1510" y="1709" font-size="24" font-style="italic">v</tspan><tspan x="1527.1" y="1709" font-size="24">2</tspan><tspan x="1544.1" y="1704.2" font-size="36">(</tspan><tspan x="1555.7" y="1704.2" font-size="34" font-style="italic">t</tspan><tspan x="1568.1" y="1704.2" font-size="36">)</tspan></text>
</g>
</svg>
</body></html>
